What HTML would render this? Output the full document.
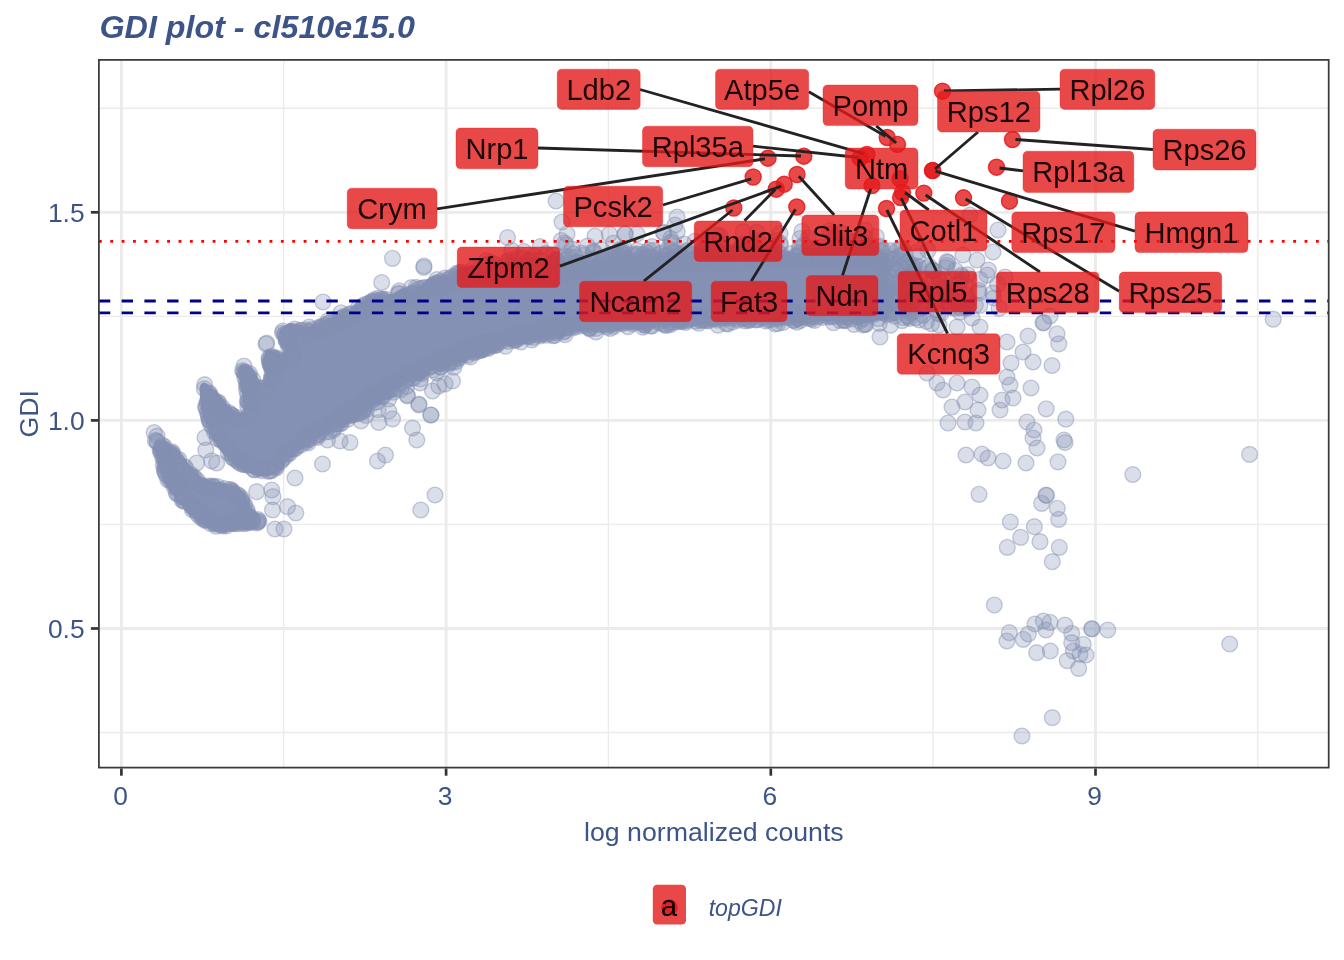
<!DOCTYPE html><html><head><meta charset="utf-8"><title>GDI plot</title><style>html,body{margin:0;padding:0;background:#fff}svg{display:block;will-change:transform}text{font-family:"Liberation Sans",sans-serif}</style></head><body>
<svg width="1344" height="960" viewBox="0 0 1344 960">
<rect width="1344" height="960" fill="#fff"/>
<g stroke="#EBEBEB" fill="none">
<g stroke-width="1.42">
<path d="M283.7 59.9V767.6"/>
<path d="M608.4 59.9V767.6"/>
<path d="M933.1 59.9V767.6"/>
<path d="M1257.8 59.9V767.6"/>
<path d="M98.9 108.3H1328.7"/>
<path d="M98.9 316.4H1328.7"/>
<path d="M98.9 524.4H1328.7"/>
<path d="M98.9 732.5H1328.7"/>
</g><g stroke-width="2.85">
<path d="M121.4 59.9V767.6"/>
<path d="M446.1 59.9V767.6"/>
<path d="M770.8 59.9V767.6"/>
<path d="M1095.5 59.9V767.6"/>
<path d="M98.9 212.3H1328.7"/>
<path d="M98.9 420.4H1328.7"/>
<path d="M98.9 628.5H1328.7"/>
</g></g>
<path d="M342.1 423.1L407.0 382.8L441.6 365.4L476.2 352.9L506.0 344.2L560.7 332.6L600.3 327.7L660.1 324.7L840.0 319.7L886.1 320.5L888.1 319.3L889.0 316.7L888.8 255.1L887.5 253.2L885.4 252.3L840.0 252.3L774.9 253.3L709.9 255.2L659.7 257.3L599.7 261.3L559.8 266.3L509.9 266.3L474.2 269.2L438.8 279.5L404.0 291.6L373.6 297.2L368.2 299.3L338.3 314.7L304.0 328.4L303.0 326.2L301.0 324.9L290.2 323.0L287.9 323.6L284.3 326.8L280.6 328.8L279.2 332.4L285.7 351.0L285.7 352.9L284.9 354.5L283.0 355.7L280.8 355.6L269.3 349.5L266.7 350.0L264.9 352.0L266.8 379.7L265.6 382.8L262.9 383.8L260.5 382.9L250.3 369.7L245.4 364.8L242.4 364.1L239.6 366.2L238.1 371.1L241.8 389.7L243.8 410.0L243.1 412.1L241.4 413.5L238.1 413.3L227.6 405.9L220.1 395.6L206.2 383.1L204.0 382.5L202.1 383.0L200.7 384.4L199.5 387.2L200.3 402.4L204.2 419.1L210.9 436.3L219.8 450.3L232.8 464.0L244.8 471.5L259.7 476.0L271.9 475.2L281.3 470.6L282.6 469.3L287.2 460.5L302.5 448.5L303.9 446.0ZM159.4 439.9L157.5 439.8L155.7 440.7L154.6 442.3L154.3 444.2L158.7 465.6L163.6 481.5L179.5 504.1L204.6 526.3L216.2 531.0L246.0 527.9L254.5 525.6L256.1 524.4L257.0 522.3L256.8 520.4L253.3 514.7L249.4 504.3L244.8 495.1L238.2 487.0L236.5 486.1L214.0 481.7L201.1 478.3L192.0 469.1L185.1 458.8L174.7 446.9Z" fill="#8491B4"/>
<g class="g" fill="#8491B4" fill-opacity=".3" stroke="#8491B4" stroke-opacity=".45" stroke-width="1.4">
<circle cx="408.2" cy="298.5" r="7.9"/><circle cx="232.5" cy="453.2" r="7.9"/><circle cx="908.0" cy="262.1" r="7.9"/><circle cx="680.1" cy="321.3" r="7.9"/><circle cx="161.8" cy="451.7" r="7.9"/><circle cx="485.4" cy="342.8" r="7.9"/><circle cx="432.5" cy="391.0" r="7.9"/><circle cx="487.2" cy="343.0" r="7.9"/><circle cx="664.0" cy="232.7" r="7.9"/><circle cx="699.1" cy="264.1" r="7.9"/><circle cx="736.3" cy="260.0" r="7.9"/><circle cx="921.3" cy="286.9" r="7.9"/><circle cx="271.6" cy="379.1" r="7.9"/><circle cx="401.0" cy="300.1" r="7.9"/><circle cx="487.2" cy="341.3" r="7.9"/><circle cx="806.3" cy="260.4" r="7.9"/><circle cx="660.0" cy="254.1" r="7.9"/><circle cx="251.1" cy="382.6" r="7.9"/><circle cx="863.5" cy="315.7" r="7.9"/><circle cx="258.1" cy="468.7" r="7.9"/><circle cx="306.1" cy="329.9" r="7.9"/><circle cx="808.5" cy="315.2" r="7.9"/><circle cx="708.1" cy="320.2" r="7.9"/><circle cx="554.1" cy="254.5" r="7.9"/><circle cx="611.8" cy="267.7" r="7.9"/><circle cx="852.8" cy="314.6" r="7.9"/><circle cx="724.4" cy="259.2" r="7.9"/><circle cx="206.3" cy="487.5" r="7.9"/><circle cx="736.1" cy="315.6" r="7.9"/><circle cx="831.2" cy="233.5" r="7.9"/><circle cx="259.0" cy="521.5" r="7.9"/><circle cx="1046.5" cy="495.5" r="7.9"/><circle cx="670.4" cy="324.6" r="7.9"/><circle cx="310.7" cy="431.9" r="7.9"/><circle cx="576.3" cy="262.2" r="7.9"/><circle cx="411.5" cy="296.5" r="7.9"/><circle cx="717.6" cy="320.1" r="7.9"/><circle cx="374.3" cy="299.5" r="7.9"/><circle cx="193.2" cy="481.3" r="7.9"/><circle cx="586.1" cy="270.8" r="7.9"/><circle cx="684.9" cy="318.1" r="7.9"/><circle cx="526.7" cy="270.1" r="7.9"/><circle cx="329.2" cy="323.0" r="7.9"/><circle cx="317.4" cy="437.4" r="7.9"/><circle cx="802.0" cy="231.4" r="7.9"/><circle cx="764.5" cy="313.9" r="7.9"/><circle cx="857.5" cy="248.3" r="7.9"/><circle cx="750.8" cy="259.8" r="7.9"/><circle cx="507.0" cy="274.1" r="7.9"/><circle cx="918.4" cy="266.7" r="7.9"/><circle cx="306.0" cy="442.0" r="7.9"/><circle cx="927.0" cy="373.0" r="7.9"/><circle cx="970.0" cy="215.0" r="7.9"/><circle cx="878.3" cy="318.6" r="7.9"/><circle cx="1007.3" cy="547.3" r="7.9"/><circle cx="504.4" cy="337.8" r="7.9"/><circle cx="899.7" cy="306.3" r="7.9"/><circle cx="455.9" cy="358.4" r="7.9"/><circle cx="497.8" cy="267.6" r="7.9"/><circle cx="493.3" cy="343.7" r="7.9"/><circle cx="322.5" cy="328.0" r="7.9"/><circle cx="958.9" cy="307.0" r="7.9"/><circle cx="1007.0" cy="641.0" r="7.9"/><circle cx="463.9" cy="279.9" r="7.9"/><circle cx="265.3" cy="388.6" r="7.9"/><circle cx="481.0" cy="274.3" r="7.9"/><circle cx="382.3" cy="303.1" r="7.9"/><circle cx="166.7" cy="468.7" r="7.9"/><circle cx="270.3" cy="362.4" r="7.9"/><circle cx="739.0" cy="251.9" r="7.9"/><circle cx="1028.3" cy="634.0" r="7.9"/><circle cx="833.5" cy="322.7" r="7.9"/><circle cx="812.2" cy="314.9" r="7.9"/><circle cx="247.8" cy="377.4" r="7.9"/><circle cx="698.1" cy="316.6" r="7.9"/><circle cx="659.5" cy="316.5" r="7.9"/><circle cx="1059.3" cy="547.3" r="7.9"/><circle cx="879.3" cy="323.3" r="7.9"/><circle cx="501.1" cy="338.0" r="7.9"/><circle cx="218.0" cy="406.9" r="7.9"/><circle cx="727.5" cy="263.3" r="7.9"/><circle cx="627.7" cy="321.8" r="7.9"/><circle cx="858.5" cy="245.0" r="7.9"/><circle cx="781.5" cy="257.9" r="7.9"/><circle cx="965.0" cy="422.0" r="7.9"/><circle cx="578.3" cy="269.7" r="7.9"/><circle cx="191.7" cy="504.3" r="7.9"/><circle cx="288.0" cy="453.4" r="7.9"/><circle cx="166.4" cy="475.0" r="7.9"/><circle cx="745.8" cy="317.8" r="7.9"/><circle cx="589.9" cy="271.0" r="7.9"/><circle cx="715.1" cy="253.3" r="7.9"/><circle cx="619.2" cy="251.4" r="7.9"/><circle cx="841.0" cy="252.4" r="7.9"/><circle cx="164.4" cy="456.8" r="7.9"/><circle cx="909.6" cy="308.2" r="7.9"/><circle cx="853.9" cy="252.5" r="7.9"/><circle cx="325.4" cy="432.0" r="7.9"/><circle cx="552.3" cy="271.7" r="7.9"/><circle cx="861.8" cy="255.4" r="7.9"/><circle cx="183.9" cy="470.6" r="7.9"/><circle cx="223.9" cy="412.7" r="7.9"/><circle cx="193.0" cy="480.5" r="7.9"/><circle cx="681.3" cy="263.1" r="7.9"/><circle cx="209.4" cy="420.1" r="7.9"/><circle cx="421.7" cy="368.7" r="7.9"/><circle cx="386.2" cy="299.4" r="7.9"/><circle cx="526.5" cy="271.2" r="7.9"/><circle cx="442.3" cy="359.5" r="7.9"/><circle cx="563.7" cy="324.7" r="7.9"/><circle cx="286.1" cy="340.9" r="7.9"/><circle cx="887.0" cy="262.9" r="7.9"/><circle cx="311.0" cy="433.9" r="7.9"/><circle cx="1083.3" cy="644.3" r="7.9"/><circle cx="842.1" cy="316.9" r="7.9"/><circle cx="257.7" cy="521.2" r="7.9"/><circle cx="171.1" cy="477.7" r="7.9"/><circle cx="623.2" cy="252.7" r="7.9"/><circle cx="297.3" cy="445.7" r="7.9"/><circle cx="382.8" cy="299.2" r="7.9"/><circle cx="461.2" cy="278.2" r="7.9"/><circle cx="780.1" cy="245.1" r="7.9"/><circle cx="859.8" cy="315.2" r="7.9"/><circle cx="440.7" cy="287.8" r="7.9"/><circle cx="514.2" cy="339.9" r="7.9"/><circle cx="884.8" cy="264.9" r="7.9"/><circle cx="684.0" cy="253.8" r="7.9"/><circle cx="902.7" cy="281.2" r="7.9"/><circle cx="528.2" cy="265.3" r="7.9"/><circle cx="746.4" cy="259.2" r="7.9"/><circle cx="382.2" cy="391.9" r="7.9"/><circle cx="823.6" cy="311.6" r="7.9"/><circle cx="1050.3" cy="651.0" r="7.9"/><circle cx="260.5" cy="388.6" r="7.9"/><circle cx="740.2" cy="247.8" r="7.9"/><circle cx="823.3" cy="253.1" r="7.9"/><circle cx="633.5" cy="321.2" r="7.9"/><circle cx="518.1" cy="332.8" r="7.9"/><circle cx="292.4" cy="358.1" r="7.9"/><circle cx="775.5" cy="259.8" r="7.9"/><circle cx="284.7" cy="334.0" r="7.9"/><circle cx="464.4" cy="279.8" r="7.9"/><circle cx="437.7" cy="285.6" r="7.9"/><circle cx="437.7" cy="283.1" r="7.9"/><circle cx="575.3" cy="324.7" r="7.9"/><circle cx="489.3" cy="270.6" r="7.9"/><circle cx="619.7" cy="321.7" r="7.9"/><circle cx="249.6" cy="517.0" r="7.9"/><circle cx="509.3" cy="263.0" r="7.9"/><circle cx="467.5" cy="350.8" r="7.9"/><circle cx="624.0" cy="255.1" r="7.9"/><circle cx="517.4" cy="336.2" r="7.9"/><circle cx="223.7" cy="524.0" r="7.9"/><circle cx="892.2" cy="312.4" r="7.9"/><circle cx="537.3" cy="273.0" r="7.9"/><circle cx="164.1" cy="446.3" r="7.9"/><circle cx="481.2" cy="342.9" r="7.9"/><circle cx="730.5" cy="259.3" r="7.9"/><circle cx="833.7" cy="238.5" r="7.9"/><circle cx="516.1" cy="339.8" r="7.9"/><circle cx="276.1" cy="359.5" r="7.9"/><circle cx="524.5" cy="270.8" r="7.9"/><circle cx="509.3" cy="259.9" r="7.9"/><circle cx="658.5" cy="322.7" r="7.9"/><circle cx="712.6" cy="318.6" r="7.9"/><circle cx="365.8" cy="415.5" r="7.9"/><circle cx="850.4" cy="259.0" r="7.9"/><circle cx="923.1" cy="306.1" r="7.9"/><circle cx="640.8" cy="322.4" r="7.9"/><circle cx="543.9" cy="268.7" r="7.9"/><circle cx="491.7" cy="272.6" r="7.9"/><circle cx="173.2" cy="455.2" r="7.9"/><circle cx="615.2" cy="322.6" r="7.9"/><circle cx="468.3" cy="355.1" r="7.9"/><circle cx="738.5" cy="320.2" r="7.9"/><circle cx="359.5" cy="413.1" r="7.9"/><circle cx="197.5" cy="514.2" r="7.9"/><circle cx="459.7" cy="352.1" r="7.9"/><circle cx="582.9" cy="268.3" r="7.9"/><circle cx="256.7" cy="523.0" r="7.9"/><circle cx="575.6" cy="257.1" r="7.9"/><circle cx="418.9" cy="370.6" r="7.9"/><circle cx="1043.0" cy="323.0" r="7.9"/><circle cx="482.3" cy="349.8" r="7.9"/><circle cx="769.2" cy="253.0" r="7.9"/><circle cx="740.7" cy="254.4" r="7.9"/><circle cx="681.8" cy="321.3" r="7.9"/><circle cx="1007.0" cy="377.0" r="7.9"/><circle cx="766.7" cy="252.7" r="7.9"/><circle cx="209.1" cy="419.4" r="7.9"/><circle cx="517.4" cy="270.1" r="7.9"/><circle cx="512.7" cy="335.8" r="7.9"/><circle cx="851.4" cy="318.9" r="7.9"/><circle cx="808.0" cy="248.9" r="7.9"/><circle cx="244.7" cy="523.6" r="7.9"/><circle cx="541.6" cy="274.6" r="7.9"/><circle cx="242.6" cy="370.5" r="7.9"/><circle cx="174.1" cy="486.8" r="7.9"/><circle cx="546.0" cy="253.4" r="7.9"/><circle cx="323.0" cy="302.0" r="7.9"/><circle cx="776.6" cy="240.8" r="7.9"/><circle cx="462.7" cy="352.3" r="7.9"/><circle cx="726.2" cy="323.6" r="7.9"/><circle cx="282.5" cy="333.0" r="7.9"/><circle cx="295.0" cy="478.0" r="7.9"/><circle cx="750.2" cy="315.6" r="7.9"/><circle cx="851.6" cy="254.4" r="7.9"/><circle cx="524.3" cy="331.8" r="7.9"/><circle cx="508.2" cy="341.3" r="7.9"/><circle cx="820.9" cy="255.2" r="7.9"/><circle cx="727.8" cy="258.6" r="7.9"/><circle cx="875.9" cy="257.3" r="7.9"/><circle cx="291.1" cy="356.3" r="7.9"/><circle cx="748.7" cy="260.0" r="7.9"/><circle cx="814.8" cy="255.8" r="7.9"/><circle cx="414.8" cy="370.6" r="7.9"/><circle cx="671.3" cy="322.3" r="7.9"/><circle cx="192.9" cy="476.5" r="7.9"/><circle cx="287.0" cy="341.1" r="7.9"/><circle cx="245.3" cy="521.1" r="7.9"/><circle cx="561.9" cy="271.5" r="7.9"/><circle cx="287.7" cy="341.9" r="7.9"/><circle cx="269.6" cy="386.2" r="7.9"/><circle cx="798.1" cy="318.5" r="7.9"/><circle cx="684.0" cy="261.3" r="7.9"/><circle cx="560.1" cy="329.2" r="7.9"/><circle cx="365.5" cy="308.6" r="7.9"/><circle cx="208.5" cy="416.0" r="7.9"/><circle cx="939.0" cy="279.9" r="7.9"/><circle cx="579.4" cy="269.3" r="7.9"/><circle cx="185.6" cy="467.8" r="7.9"/><circle cx="779.2" cy="317.4" r="7.9"/><circle cx="589.5" cy="327.8" r="7.9"/><circle cx="702.6" cy="263.6" r="7.9"/><circle cx="398.6" cy="383.8" r="7.9"/><circle cx="681.7" cy="319.7" r="7.9"/><circle cx="601.7" cy="324.8" r="7.9"/><circle cx="892.5" cy="268.3" r="7.9"/><circle cx="432.2" cy="365.8" r="7.9"/><circle cx="271.8" cy="375.7" r="7.9"/><circle cx="980.0" cy="279.4" r="7.9"/><circle cx="198.7" cy="510.7" r="7.9"/><circle cx="641.2" cy="263.5" r="7.9"/><circle cx="1080.0" cy="654.3" r="7.9"/><circle cx="583.3" cy="269.4" r="7.9"/><circle cx="407.5" cy="396.0" r="7.9"/><circle cx="417.9" cy="369.0" r="7.9"/><circle cx="835.1" cy="259.7" r="7.9"/><circle cx="197.1" cy="510.5" r="7.9"/><circle cx="228.6" cy="412.5" r="7.9"/><circle cx="552.2" cy="273.9" r="7.9"/><circle cx="696.2" cy="258.7" r="7.9"/><circle cx="748.7" cy="262.2" r="7.9"/><circle cx="424.0" cy="266.0" r="7.9"/><circle cx="444.9" cy="278.0" r="7.9"/><circle cx="433.4" cy="285.7" r="7.9"/><circle cx="710.8" cy="257.5" r="7.9"/><circle cx="555.2" cy="259.5" r="7.9"/><circle cx="838.8" cy="315.1" r="7.9"/><circle cx="548.2" cy="272.4" r="7.9"/><circle cx="354.9" cy="414.2" r="7.9"/><circle cx="234.4" cy="521.1" r="7.9"/><circle cx="495.5" cy="345.4" r="7.9"/><circle cx="909.7" cy="318.5" r="7.9"/><circle cx="461.9" cy="353.9" r="7.9"/><circle cx="671.1" cy="249.7" r="7.9"/><circle cx="721.3" cy="251.7" r="7.9"/><circle cx="757.7" cy="241.2" r="7.9"/><circle cx="593.1" cy="251.2" r="7.9"/><circle cx="1037.0" cy="448.0" r="7.9"/><circle cx="399.6" cy="300.0" r="7.9"/><circle cx="721.7" cy="315.6" r="7.9"/><circle cx="467.1" cy="279.7" r="7.9"/><circle cx="720.8" cy="260.2" r="7.9"/><circle cx="704.0" cy="261.8" r="7.9"/><circle cx="940.1" cy="282.4" r="7.9"/><circle cx="284.6" cy="457.4" r="7.9"/><circle cx="857.1" cy="257.4" r="7.9"/><circle cx="968.9" cy="300.1" r="7.9"/><circle cx="802.7" cy="317.3" r="7.9"/><circle cx="247.8" cy="400.9" r="7.9"/><circle cx="246.9" cy="518.7" r="7.9"/><circle cx="551.3" cy="328.5" r="7.9"/><circle cx="907.6" cy="289.8" r="7.9"/><circle cx="546.7" cy="327.1" r="7.9"/><circle cx="440.7" cy="363.6" r="7.9"/><circle cx="685.6" cy="316.9" r="7.9"/><circle cx="839.4" cy="260.8" r="7.9"/><circle cx="399.3" cy="293.4" r="7.9"/><circle cx="374.7" cy="305.2" r="7.9"/><circle cx="689.7" cy="262.9" r="7.9"/><circle cx="714.1" cy="262.2" r="7.9"/><circle cx="957.4" cy="301.2" r="7.9"/><circle cx="270.5" cy="360.7" r="7.9"/><circle cx="872.1" cy="249.9" r="7.9"/><circle cx="702.0" cy="257.8" r="7.9"/><circle cx="567.5" cy="327.8" r="7.9"/><circle cx="242.8" cy="520.8" r="7.9"/><circle cx="882.0" cy="305.1" r="7.9"/><circle cx="165.3" cy="473.1" r="7.9"/><circle cx="650.9" cy="326.0" r="7.9"/><circle cx="344.0" cy="316.3" r="7.9"/><circle cx="793.2" cy="261.5" r="7.9"/><circle cx="193.6" cy="507.4" r="7.9"/><circle cx="644.0" cy="324.8" r="7.9"/><circle cx="952.0" cy="407.0" r="7.9"/><circle cx="387.6" cy="386.4" r="7.9"/><circle cx="1005.0" cy="277.0" r="7.9"/><circle cx="426.5" cy="287.6" r="7.9"/><circle cx="1064.0" cy="440.0" r="7.9"/><circle cx="355.4" cy="407.5" r="7.9"/><circle cx="333.5" cy="430.0" r="7.9"/><circle cx="164.9" cy="462.4" r="7.9"/><circle cx="584.5" cy="322.8" r="7.9"/><circle cx="948.2" cy="300.8" r="7.9"/><circle cx="291.9" cy="449.1" r="7.9"/><circle cx="384.0" cy="300.8" r="7.9"/><circle cx="406.6" cy="373.6" r="7.9"/><circle cx="870.3" cy="257.2" r="7.9"/><circle cx="184.3" cy="466.5" r="7.9"/><circle cx="170.5" cy="479.5" r="7.9"/><circle cx="967.7" cy="274.7" r="7.9"/><circle cx="169.9" cy="480.0" r="7.9"/><circle cx="538.1" cy="274.4" r="7.9"/><circle cx="557.2" cy="329.6" r="7.9"/><circle cx="666.7" cy="256.4" r="7.9"/><circle cx="584.3" cy="324.3" r="7.9"/><circle cx="224.1" cy="411.4" r="7.9"/><circle cx="321.2" cy="327.5" r="7.9"/><circle cx="637.1" cy="259.5" r="7.9"/><circle cx="231.4" cy="491.4" r="7.9"/><circle cx="737.6" cy="314.4" r="7.9"/><circle cx="218.4" cy="406.5" r="7.9"/><circle cx="431.2" cy="289.2" r="7.9"/><circle cx="341.5" cy="417.8" r="7.9"/><circle cx="885.1" cy="312.9" r="7.9"/><circle cx="752.5" cy="243.1" r="7.9"/><circle cx="717.7" cy="315.7" r="7.9"/><circle cx="972.0" cy="318.0" r="7.9"/><circle cx="564.0" cy="265.3" r="7.9"/><circle cx="268.5" cy="471.3" r="7.9"/><circle cx="371.2" cy="305.2" r="7.9"/><circle cx="439.9" cy="362.5" r="7.9"/><circle cx="777.4" cy="258.1" r="7.9"/><circle cx="681.6" cy="260.7" r="7.9"/><circle cx="818.6" cy="260.5" r="7.9"/><circle cx="549.9" cy="268.3" r="7.9"/><circle cx="664.6" cy="256.1" r="7.9"/><circle cx="539.9" cy="335.8" r="7.9"/><circle cx="943.0" cy="390.0" r="7.9"/><circle cx="342.6" cy="416.8" r="7.9"/><circle cx="756.6" cy="248.7" r="7.9"/><circle cx="889.4" cy="259.1" r="7.9"/><circle cx="288.1" cy="359.2" r="7.9"/><circle cx="447.2" cy="359.0" r="7.9"/><circle cx="581.0" cy="321.7" r="7.9"/><circle cx="529.1" cy="333.6" r="7.9"/><circle cx="609.4" cy="234.2" r="7.9"/><circle cx="360.3" cy="408.8" r="7.9"/><circle cx="552.6" cy="333.1" r="7.9"/><circle cx="564.8" cy="269.6" r="7.9"/><circle cx="988.0" cy="458.0" r="7.9"/><circle cx="568.1" cy="259.7" r="7.9"/><circle cx="722.5" cy="253.9" r="7.9"/><circle cx="843.7" cy="258.1" r="7.9"/><circle cx="1009.3" cy="632.7" r="7.9"/><circle cx="177.6" cy="488.2" r="7.9"/><circle cx="639.2" cy="320.4" r="7.9"/><circle cx="387.1" cy="387.8" r="7.9"/><circle cx="679.1" cy="254.4" r="7.9"/><circle cx="881.6" cy="277.4" r="7.9"/><circle cx="489.8" cy="343.3" r="7.9"/><circle cx="812.1" cy="317.4" r="7.9"/><circle cx="951.5" cy="297.0" r="7.9"/><circle cx="623.1" cy="261.3" r="7.9"/><circle cx="230.5" cy="489.8" r="7.9"/><circle cx="1065.0" cy="625.0" r="7.9"/><circle cx="535.4" cy="331.6" r="7.9"/><circle cx="484.8" cy="274.0" r="7.9"/><circle cx="246.5" cy="385.9" r="7.9"/><circle cx="190.6" cy="474.1" r="7.9"/><circle cx="833.7" cy="257.8" r="7.9"/><circle cx="350.4" cy="413.1" r="7.9"/><circle cx="632.8" cy="322.1" r="7.9"/><circle cx="218.6" cy="490.2" r="7.9"/><circle cx="584.6" cy="263.5" r="7.9"/><circle cx="235.8" cy="523.7" r="7.9"/><circle cx="366.5" cy="409.8" r="7.9"/><circle cx="565.0" cy="273.4" r="7.9"/><circle cx="859.8" cy="253.7" r="7.9"/><circle cx="692.5" cy="259.7" r="7.9"/><circle cx="294.3" cy="448.6" r="7.9"/><circle cx="1057.0" cy="333.8" r="7.9"/><circle cx="1132.8" cy="474.5" r="7.9"/><circle cx="373.7" cy="393.6" r="7.9"/><circle cx="416.2" cy="287.4" r="7.9"/><circle cx="729.6" cy="263.0" r="7.9"/><circle cx="301.3" cy="330.1" r="7.9"/><circle cx="176.6" cy="459.3" r="7.9"/><circle cx="244.0" cy="464.3" r="7.9"/><circle cx="585.7" cy="268.9" r="7.9"/><circle cx="741.8" cy="246.7" r="7.9"/><circle cx="557.5" cy="328.1" r="7.9"/><circle cx="1033.0" cy="438.0" r="7.9"/><circle cx="346.1" cy="318.3" r="7.9"/><circle cx="796.9" cy="318.7" r="7.9"/><circle cx="751.1" cy="248.6" r="7.9"/><circle cx="790.6" cy="313.9" r="7.9"/><circle cx="190.9" cy="477.7" r="7.9"/><circle cx="400.5" cy="299.3" r="7.9"/><circle cx="445.3" cy="285.1" r="7.9"/><circle cx="421.7" cy="373.7" r="7.9"/><circle cx="737.7" cy="259.5" r="7.9"/><circle cx="362.2" cy="410.8" r="7.9"/><circle cx="813.9" cy="258.4" r="7.9"/><circle cx="240.5" cy="459.6" r="7.9"/><circle cx="685.6" cy="322.4" r="7.9"/><circle cx="540.8" cy="333.7" r="7.9"/><circle cx="1052.0" cy="365.5" r="7.9"/><circle cx="588.6" cy="322.6" r="7.9"/><circle cx="222.5" cy="411.9" r="7.9"/><circle cx="432.8" cy="286.1" r="7.9"/><circle cx="238.9" cy="462.5" r="7.9"/><circle cx="771.3" cy="252.6" r="7.9"/><circle cx="712.8" cy="249.5" r="7.9"/><circle cx="651.7" cy="319.3" r="7.9"/><circle cx="812.0" cy="256.2" r="7.9"/><circle cx="232.2" cy="415.4" r="7.9"/><circle cx="517.9" cy="258.1" r="7.9"/><circle cx="445.0" cy="361.7" r="7.9"/><circle cx="957.0" cy="327.0" r="7.9"/><circle cx="688.5" cy="261.8" r="7.9"/><circle cx="662.6" cy="260.5" r="7.9"/><circle cx="594.3" cy="252.1" r="7.9"/><circle cx="364.0" cy="408.8" r="7.9"/><circle cx="975.3" cy="305.1" r="7.9"/><circle cx="210.9" cy="520.9" r="7.9"/><circle cx="978.9" cy="292.8" r="7.9"/><circle cx="371.2" cy="397.1" r="7.9"/><circle cx="859.6" cy="321.2" r="7.9"/><circle cx="473.9" cy="350.1" r="7.9"/><circle cx="887.0" cy="293.0" r="7.9"/><circle cx="890.9" cy="259.6" r="7.9"/><circle cx="702.2" cy="260.5" r="7.9"/><circle cx="244.3" cy="464.3" r="7.9"/><circle cx="639.9" cy="319.2" r="7.9"/><circle cx="363.6" cy="306.1" r="7.9"/><circle cx="899.3" cy="283.1" r="7.9"/><circle cx="629.3" cy="320.5" r="7.9"/><circle cx="217.2" cy="438.5" r="7.9"/><circle cx="378.8" cy="422.5" r="7.9"/><circle cx="870.6" cy="260.6" r="7.9"/><circle cx="266.0" cy="344.0" r="7.9"/><circle cx="637.2" cy="320.6" r="7.9"/><circle cx="502.7" cy="271.3" r="7.9"/><circle cx="796.3" cy="255.7" r="7.9"/><circle cx="551.5" cy="268.6" r="7.9"/><circle cx="452.3" cy="276.7" r="7.9"/><circle cx="531.6" cy="274.4" r="7.9"/><circle cx="1046.2" cy="408.8" r="7.9"/><circle cx="330.3" cy="425.2" r="7.9"/><circle cx="639.0" cy="318.1" r="7.9"/><circle cx="252.3" cy="519.3" r="7.9"/><circle cx="977.0" cy="260.0" r="7.9"/><circle cx="716.8" cy="251.6" r="7.9"/><circle cx="612.0" cy="259.1" r="7.9"/><circle cx="767.1" cy="318.7" r="7.9"/><circle cx="810.7" cy="316.3" r="7.9"/><circle cx="358.9" cy="312.8" r="7.9"/><circle cx="624.5" cy="248.5" r="7.9"/><circle cx="237.9" cy="420.1" r="7.9"/><circle cx="795.3" cy="260.6" r="7.9"/><circle cx="1058.7" cy="519.3" r="7.9"/><circle cx="482.6" cy="347.4" r="7.9"/><circle cx="676.3" cy="263.1" r="7.9"/><circle cx="333.7" cy="420.4" r="7.9"/><circle cx="891.3" cy="288.3" r="7.9"/><circle cx="653.4" cy="250.7" r="7.9"/><circle cx="630.2" cy="319.7" r="7.9"/><circle cx="548.2" cy="272.6" r="7.9"/><circle cx="479.9" cy="272.3" r="7.9"/><circle cx="247.5" cy="376.3" r="7.9"/><circle cx="369.4" cy="307.0" r="7.9"/><circle cx="1022.0" cy="736.0" r="7.9"/><circle cx="241.3" cy="500.8" r="7.9"/><circle cx="340.0" cy="441.0" r="7.9"/><circle cx="605.2" cy="324.7" r="7.9"/><circle cx="474.2" cy="274.6" r="7.9"/><circle cx="737.9" cy="257.2" r="7.9"/><circle cx="603.7" cy="264.9" r="7.9"/><circle cx="957.0" cy="383.0" r="7.9"/><circle cx="546.6" cy="331.6" r="7.9"/><circle cx="664.8" cy="316.1" r="7.9"/><circle cx="792.2" cy="260.1" r="7.9"/><circle cx="741.5" cy="260.4" r="7.9"/><circle cx="520.3" cy="337.4" r="7.9"/><circle cx="907.5" cy="262.2" r="7.9"/><circle cx="716.4" cy="262.7" r="7.9"/><circle cx="857.2" cy="257.8" r="7.9"/><circle cx="244.8" cy="504.7" r="7.9"/><circle cx="575.4" cy="322.2" r="7.9"/><circle cx="966.0" cy="455.0" r="7.9"/><circle cx="887.6" cy="286.3" r="7.9"/><circle cx="642.1" cy="259.4" r="7.9"/><circle cx="820.7" cy="257.9" r="7.9"/><circle cx="666.2" cy="325.3" r="7.9"/><circle cx="341.4" cy="318.0" r="7.9"/><circle cx="863.6" cy="313.4" r="7.9"/><circle cx="476.0" cy="352.0" r="7.9"/><circle cx="730.0" cy="262.1" r="7.9"/><circle cx="758.9" cy="316.5" r="7.9"/><circle cx="346.6" cy="412.1" r="7.9"/><circle cx="229.0" cy="416.5" r="7.9"/><circle cx="677.5" cy="318.9" r="7.9"/><circle cx="707.0" cy="241.4" r="7.9"/><circle cx="850.2" cy="255.2" r="7.9"/><circle cx="420.0" cy="382.8" r="7.9"/><circle cx="350.0" cy="442.5" r="7.9"/><circle cx="489.3" cy="347.2" r="7.9"/><circle cx="168.7" cy="469.1" r="7.9"/><circle cx="719.9" cy="235.6" r="7.9"/><circle cx="485.3" cy="264.6" r="7.9"/><circle cx="525.3" cy="270.2" r="7.9"/><circle cx="234.0" cy="521.7" r="7.9"/><circle cx="608.6" cy="263.3" r="7.9"/><circle cx="406.5" cy="386.3" r="7.9"/><circle cx="203.9" cy="516.3" r="7.9"/><circle cx="252.3" cy="384.6" r="7.9"/><circle cx="192.3" cy="509.6" r="7.9"/><circle cx="317.7" cy="434.2" r="7.9"/><circle cx="765.7" cy="317.0" r="7.9"/><circle cx="619.8" cy="249.7" r="7.9"/><circle cx="762.4" cy="317.4" r="7.9"/><circle cx="916.5" cy="281.6" r="7.9"/><circle cx="492.4" cy="267.6" r="7.9"/><circle cx="765.9" cy="261.8" r="7.9"/><circle cx="676.7" cy="320.1" r="7.9"/><circle cx="157.0" cy="440.9" r="7.9"/><circle cx="394.9" cy="381.4" r="7.9"/><circle cx="522.9" cy="258.3" r="7.9"/><circle cx="416.8" cy="440.0" r="7.9"/><circle cx="520.9" cy="335.4" r="7.9"/><circle cx="594.9" cy="269.5" r="7.9"/><circle cx="275.0" cy="529.0" r="7.9"/><circle cx="818.5" cy="314.8" r="7.9"/><circle cx="274.8" cy="373.5" r="7.9"/><circle cx="854.2" cy="241.9" r="7.9"/><circle cx="222.4" cy="523.7" r="7.9"/><circle cx="286.2" cy="337.8" r="7.9"/><circle cx="907.1" cy="315.8" r="7.9"/><circle cx="818.6" cy="259.2" r="7.9"/><circle cx="495.1" cy="264.3" r="7.9"/><circle cx="271.5" cy="363.9" r="7.9"/><circle cx="208.0" cy="414.2" r="7.9"/><circle cx="912.7" cy="272.7" r="7.9"/><circle cx="468.3" cy="347.9" r="7.9"/><circle cx="176.3" cy="492.8" r="7.9"/><circle cx="378.1" cy="409.7" r="7.9"/><circle cx="283.2" cy="362.3" r="7.9"/><circle cx="871.7" cy="251.0" r="7.9"/><circle cx="690.6" cy="318.3" r="7.9"/><circle cx="272.4" cy="465.6" r="7.9"/><circle cx="677.9" cy="257.3" r="7.9"/><circle cx="208.6" cy="394.9" r="7.9"/><circle cx="636.3" cy="262.1" r="7.9"/><circle cx="665.7" cy="324.8" r="7.9"/><circle cx="875.1" cy="313.9" r="7.9"/><circle cx="547.8" cy="331.1" r="7.9"/><circle cx="212.0" cy="415.6" r="7.9"/><circle cx="897.3" cy="250.5" r="7.9"/><circle cx="900.1" cy="281.6" r="7.9"/><circle cx="271.9" cy="370.0" r="7.9"/><circle cx="213.7" cy="486.9" r="7.9"/><circle cx="520.9" cy="342.0" r="7.9"/><circle cx="560.9" cy="329.9" r="7.9"/><circle cx="416.3" cy="295.2" r="7.9"/><circle cx="384.8" cy="389.1" r="7.9"/><circle cx="580.3" cy="267.0" r="7.9"/><circle cx="164.5" cy="451.7" r="7.9"/><circle cx="549.9" cy="266.2" r="7.9"/><circle cx="373.9" cy="394.0" r="7.9"/><circle cx="207.0" cy="403.9" r="7.9"/><circle cx="588.5" cy="270.3" r="7.9"/><circle cx="638.3" cy="261.9" r="7.9"/><circle cx="910.1" cy="312.9" r="7.9"/><circle cx="1052.3" cy="717.7" r="7.9"/><circle cx="831.3" cy="312.5" r="7.9"/><circle cx="536.6" cy="332.4" r="7.9"/><circle cx="390.7" cy="390.2" r="7.9"/><circle cx="810.4" cy="247.8" r="7.9"/><circle cx="208.4" cy="393.0" r="7.9"/><circle cx="622.3" cy="249.6" r="7.9"/><circle cx="572.8" cy="325.8" r="7.9"/><circle cx="285.6" cy="454.5" r="7.9"/><circle cx="360.1" cy="406.1" r="7.9"/><circle cx="800.6" cy="320.5" r="7.9"/><circle cx="437.1" cy="359.9" r="7.9"/><circle cx="609.5" cy="325.1" r="7.9"/><circle cx="603.9" cy="267.1" r="7.9"/><circle cx="312.3" cy="329.4" r="7.9"/><circle cx="891.5" cy="282.1" r="7.9"/><circle cx="893.2" cy="295.9" r="7.9"/><circle cx="609.6" cy="254.5" r="7.9"/><circle cx="884.8" cy="290.1" r="7.9"/><circle cx="392.5" cy="418.8" r="7.9"/><circle cx="801.4" cy="314.1" r="7.9"/><circle cx="192.1" cy="506.4" r="7.9"/><circle cx="363.0" cy="402.6" r="7.9"/><circle cx="373.3" cy="402.9" r="7.9"/><circle cx="507.0" cy="270.6" r="7.9"/><circle cx="886.0" cy="301.7" r="7.9"/><circle cx="445.0" cy="383.8" r="7.9"/><circle cx="248.6" cy="465.0" r="7.9"/><circle cx="218.3" cy="402.0" r="7.9"/><circle cx="222.4" cy="526.0" r="7.9"/><circle cx="329.5" cy="327.3" r="7.9"/><circle cx="308.2" cy="331.4" r="7.9"/><circle cx="562.0" cy="222.0" r="7.9"/><circle cx="573.1" cy="253.7" r="7.9"/><circle cx="205.3" cy="487.6" r="7.9"/><circle cx="1031.0" cy="388.0" r="7.9"/><circle cx="827.2" cy="253.8" r="7.9"/><circle cx="672.3" cy="242.0" r="7.9"/><circle cx="899.9" cy="256.3" r="7.9"/><circle cx="329.5" cy="431.7" r="7.9"/><circle cx="422.3" cy="369.7" r="7.9"/><circle cx="967.9" cy="307.8" r="7.9"/><circle cx="511.8" cy="250.7" r="7.9"/><circle cx="868.2" cy="314.9" r="7.9"/><circle cx="845.5" cy="320.6" r="7.9"/><circle cx="905.3" cy="296.6" r="7.9"/><circle cx="718.0" cy="263.0" r="7.9"/><circle cx="490.7" cy="262.4" r="7.9"/><circle cx="166.0" cy="465.8" r="7.9"/><circle cx="459.0" cy="357.2" r="7.9"/><circle cx="911.4" cy="305.8" r="7.9"/><circle cx="891.6" cy="268.7" r="7.9"/><circle cx="948.0" cy="423.0" r="7.9"/><circle cx="748.5" cy="259.0" r="7.9"/><circle cx="644.6" cy="324.9" r="7.9"/><circle cx="430.8" cy="415.0" r="7.9"/><circle cx="689.1" cy="315.8" r="7.9"/><circle cx="531.9" cy="339.9" r="7.9"/><circle cx="707.9" cy="258.0" r="7.9"/><circle cx="406.8" cy="296.8" r="7.9"/><circle cx="257.1" cy="467.7" r="7.9"/><circle cx="360.7" cy="310.4" r="7.9"/><circle cx="651.8" cy="262.2" r="7.9"/><circle cx="757.5" cy="250.2" r="7.9"/><circle cx="323.4" cy="425.9" r="7.9"/><circle cx="375.9" cy="396.7" r="7.9"/><circle cx="677.4" cy="264.1" r="7.9"/><circle cx="241.6" cy="498.4" r="7.9"/><circle cx="372.3" cy="301.4" r="7.9"/><circle cx="168.7" cy="470.9" r="7.9"/><circle cx="645.1" cy="266.1" r="7.9"/><circle cx="804.1" cy="316.7" r="7.9"/><circle cx="326.8" cy="327.8" r="7.9"/><circle cx="836.3" cy="258.7" r="7.9"/><circle cx="266.7" cy="343.2" r="7.9"/><circle cx="545.8" cy="329.8" r="7.9"/><circle cx="182.7" cy="496.7" r="7.9"/><circle cx="717.9" cy="263.1" r="7.9"/><circle cx="495.6" cy="274.6" r="7.9"/><circle cx="407.0" cy="395.0" r="7.9"/><circle cx="564.5" cy="331.2" r="7.9"/><circle cx="684.1" cy="244.0" r="7.9"/><circle cx="519.0" cy="266.5" r="7.9"/><circle cx="507.9" cy="335.7" r="7.9"/><circle cx="561.2" cy="270.0" r="7.9"/><circle cx="880.0" cy="337.0" r="7.9"/><circle cx="250.3" cy="380.7" r="7.9"/><circle cx="697.8" cy="262.2" r="7.9"/><circle cx="448.6" cy="362.6" r="7.9"/><circle cx="338.1" cy="416.8" r="7.9"/><circle cx="249.5" cy="373.6" r="7.9"/><circle cx="587.5" cy="246.2" r="7.9"/><circle cx="824.2" cy="312.2" r="7.9"/><circle cx="955.8" cy="290.8" r="7.9"/><circle cx="544.3" cy="327.9" r="7.9"/><circle cx="708.4" cy="256.2" r="7.9"/><circle cx="248.0" cy="380.6" r="7.9"/><circle cx="415.4" cy="295.7" r="7.9"/><circle cx="262.3" cy="468.7" r="7.9"/><circle cx="231.8" cy="523.5" r="7.9"/><circle cx="747.9" cy="259.1" r="7.9"/><circle cx="904.5" cy="299.6" r="7.9"/><circle cx="881.7" cy="252.0" r="7.9"/><circle cx="779.8" cy="317.1" r="7.9"/><circle cx="801.0" cy="312.4" r="7.9"/><circle cx="1050.0" cy="622.3" r="7.9"/><circle cx="285.9" cy="335.4" r="7.9"/><circle cx="319.4" cy="327.1" r="7.9"/><circle cx="754.7" cy="254.8" r="7.9"/><circle cx="702.0" cy="317.3" r="7.9"/><circle cx="245.3" cy="374.0" r="7.9"/><circle cx="358.3" cy="312.3" r="7.9"/><circle cx="247.7" cy="386.5" r="7.9"/><circle cx="1027.0" cy="422.0" r="7.9"/><circle cx="221.5" cy="439.8" r="7.9"/><circle cx="414.0" cy="293.3" r="7.9"/><circle cx="643.2" cy="320.2" r="7.9"/><circle cx="665.2" cy="316.3" r="7.9"/><circle cx="524.2" cy="264.6" r="7.9"/><circle cx="244.2" cy="512.2" r="7.9"/><circle cx="614.3" cy="318.7" r="7.9"/><circle cx="461.6" cy="272.2" r="7.9"/><circle cx="536.0" cy="268.1" r="7.9"/><circle cx="1058.0" cy="461.8" r="7.9"/><circle cx="997.6" cy="284.4" r="7.9"/><circle cx="304.8" cy="437.6" r="7.9"/><circle cx="467.8" cy="347.6" r="7.9"/><circle cx="523.2" cy="336.0" r="7.9"/><circle cx="571.4" cy="271.9" r="7.9"/><circle cx="940.7" cy="313.8" r="7.9"/><circle cx="722.8" cy="261.1" r="7.9"/><circle cx="683.7" cy="257.9" r="7.9"/><circle cx="950.3" cy="296.7" r="7.9"/><circle cx="337.4" cy="424.2" r="7.9"/><circle cx="230.6" cy="521.7" r="7.9"/><circle cx="735.9" cy="318.5" r="7.9"/><circle cx="318.1" cy="434.9" r="7.9"/><circle cx="258.3" cy="519.6" r="7.9"/><circle cx="777.9" cy="314.4" r="7.9"/><circle cx="637.5" cy="264.0" r="7.9"/><circle cx="218.3" cy="407.2" r="7.9"/><circle cx="895.1" cy="295.1" r="7.9"/><circle cx="711.6" cy="240.6" r="7.9"/><circle cx="610.2" cy="328.3" r="7.9"/><circle cx="227.3" cy="445.9" r="7.9"/><circle cx="257.5" cy="522.0" r="7.9"/><circle cx="306.6" cy="438.0" r="7.9"/><circle cx="621.8" cy="263.4" r="7.9"/><circle cx="908.7" cy="305.1" r="7.9"/><circle cx="1071.7" cy="633.3" r="7.9"/><circle cx="919.3" cy="319.9" r="7.9"/><circle cx="207.3" cy="411.8" r="7.9"/><circle cx="537.4" cy="271.6" r="7.9"/><circle cx="874.6" cy="257.7" r="7.9"/><circle cx="718.9" cy="251.6" r="7.9"/><circle cx="979.8" cy="305.5" r="7.9"/><circle cx="842.5" cy="313.9" r="7.9"/><circle cx="522.8" cy="273.5" r="7.9"/><circle cx="340.0" cy="420.5" r="7.9"/><circle cx="339.9" cy="423.6" r="7.9"/><circle cx="675.7" cy="321.9" r="7.9"/><circle cx="363.6" cy="409.4" r="7.9"/><circle cx="882.5" cy="311.4" r="7.9"/><circle cx="819.1" cy="257.9" r="7.9"/><circle cx="797.0" cy="322.1" r="7.9"/><circle cx="895.8" cy="300.4" r="7.9"/><circle cx="730.1" cy="259.9" r="7.9"/><circle cx="532.9" cy="330.9" r="7.9"/><circle cx="642.0" cy="263.0" r="7.9"/><circle cx="679.7" cy="316.9" r="7.9"/><circle cx="684.6" cy="316.9" r="7.9"/><circle cx="418.7" cy="372.0" r="7.9"/><circle cx="541.3" cy="332.4" r="7.9"/><circle cx="713.9" cy="261.1" r="7.9"/><circle cx="361.3" cy="406.1" r="7.9"/><circle cx="650.8" cy="318.8" r="7.9"/><circle cx="895.5" cy="258.7" r="7.9"/><circle cx="207.2" cy="401.3" r="7.9"/><circle cx="584.5" cy="268.2" r="7.9"/><circle cx="764.9" cy="256.8" r="7.9"/><circle cx="702.3" cy="261.8" r="7.9"/><circle cx="835.4" cy="251.5" r="7.9"/><circle cx="499.0" cy="268.3" r="7.9"/><circle cx="888.5" cy="289.4" r="7.9"/><circle cx="245.5" cy="517.8" r="7.9"/><circle cx="474.0" cy="352.7" r="7.9"/><circle cx="749.5" cy="251.3" r="7.9"/><circle cx="321.3" cy="431.2" r="7.9"/><circle cx="581.9" cy="253.2" r="7.9"/><circle cx="738.6" cy="261.9" r="7.9"/><circle cx="1046.0" cy="630.0" r="7.9"/><circle cx="507.0" cy="273.0" r="7.9"/><circle cx="496.5" cy="344.9" r="7.9"/><circle cx="777.9" cy="323.5" r="7.9"/><circle cx="694.4" cy="261.3" r="7.9"/><circle cx="691.8" cy="262.2" r="7.9"/><circle cx="794.6" cy="313.4" r="7.9"/><circle cx="626.8" cy="265.2" r="7.9"/><circle cx="246.7" cy="390.2" r="7.9"/><circle cx="857.7" cy="312.5" r="7.9"/><circle cx="877.7" cy="246.8" r="7.9"/><circle cx="401.3" cy="377.0" r="7.9"/><circle cx="730.3" cy="255.8" r="7.9"/><circle cx="209.8" cy="488.7" r="7.9"/><circle cx="745.8" cy="257.1" r="7.9"/><circle cx="886.6" cy="289.7" r="7.9"/><circle cx="967.7" cy="303.4" r="7.9"/><circle cx="670.7" cy="262.3" r="7.9"/><circle cx="442.3" cy="360.2" r="7.9"/><circle cx="482.5" cy="346.6" r="7.9"/><circle cx="283.0" cy="331.0" r="7.9"/><circle cx="367.3" cy="399.8" r="7.9"/><circle cx="525.9" cy="333.3" r="7.9"/><circle cx="620.2" cy="258.2" r="7.9"/><circle cx="215.5" cy="401.6" r="7.9"/><circle cx="845.3" cy="256.0" r="7.9"/><circle cx="373.4" cy="396.1" r="7.9"/><circle cx="473.2" cy="350.1" r="7.9"/><circle cx="876.9" cy="257.9" r="7.9"/><circle cx="634.9" cy="253.8" r="7.9"/><circle cx="611.0" cy="267.1" r="7.9"/><circle cx="289.5" cy="453.3" r="7.9"/><circle cx="621.8" cy="318.4" r="7.9"/><circle cx="839.6" cy="320.3" r="7.9"/><circle cx="197.9" cy="481.0" r="7.9"/><circle cx="556.7" cy="332.6" r="7.9"/><circle cx="858.1" cy="253.2" r="7.9"/><circle cx="851.3" cy="251.8" r="7.9"/><circle cx="816.7" cy="252.0" r="7.9"/><circle cx="247.6" cy="521.7" r="7.9"/><circle cx="719.4" cy="314.8" r="7.9"/><circle cx="655.0" cy="264.5" r="7.9"/><circle cx="346.3" cy="316.6" r="7.9"/><circle cx="621.5" cy="320.9" r="7.9"/><circle cx="249.7" cy="517.6" r="7.9"/><circle cx="182.4" cy="497.4" r="7.9"/><circle cx="912.9" cy="268.1" r="7.9"/><circle cx="294.8" cy="329.1" r="7.9"/><circle cx="341.6" cy="415.2" r="7.9"/><circle cx="688.1" cy="320.2" r="7.9"/><circle cx="474.4" cy="344.8" r="7.9"/><circle cx="591.4" cy="322.9" r="7.9"/><circle cx="798.0" cy="317.9" r="7.9"/><circle cx="806.4" cy="255.5" r="7.9"/><circle cx="534.3" cy="255.8" r="7.9"/><circle cx="251.5" cy="520.2" r="7.9"/><circle cx="647.4" cy="321.5" r="7.9"/><circle cx="787.4" cy="314.7" r="7.9"/><circle cx="843.3" cy="320.3" r="7.9"/><circle cx="613.8" cy="326.5" r="7.9"/><circle cx="803.9" cy="260.7" r="7.9"/><circle cx="238.5" cy="495.0" r="7.9"/><circle cx="902.1" cy="320.6" r="7.9"/><circle cx="205.8" cy="450.0" r="7.9"/><circle cx="881.0" cy="301.0" r="7.9"/><circle cx="270.1" cy="470.3" r="7.9"/><circle cx="417.7" cy="372.3" r="7.9"/><circle cx="405.0" cy="296.2" r="7.9"/><circle cx="520.3" cy="335.5" r="7.9"/><circle cx="480.4" cy="276.7" r="7.9"/><circle cx="232.7" cy="457.8" r="7.9"/><circle cx="237.7" cy="419.9" r="7.9"/><circle cx="314.5" cy="333.0" r="7.9"/><circle cx="686.7" cy="250.6" r="7.9"/><circle cx="836.9" cy="235.3" r="7.9"/><circle cx="241.3" cy="521.8" r="7.9"/><circle cx="649.7" cy="261.1" r="7.9"/><circle cx="863.0" cy="325.0" r="7.9"/><circle cx="396.2" cy="381.5" r="7.9"/><circle cx="945.5" cy="301.5" r="7.9"/><circle cx="680.9" cy="317.7" r="7.9"/><circle cx="631.7" cy="321.9" r="7.9"/><circle cx="717.3" cy="235.2" r="7.9"/><circle cx="440.1" cy="362.1" r="7.9"/><circle cx="206.9" cy="519.3" r="7.9"/><circle cx="461.0" cy="350.2" r="7.9"/><circle cx="161.8" cy="447.8" r="7.9"/><circle cx="630.9" cy="261.3" r="7.9"/><circle cx="607.2" cy="319.1" r="7.9"/><circle cx="495.9" cy="342.7" r="7.9"/><circle cx="341.4" cy="423.3" r="7.9"/><circle cx="755.2" cy="257.9" r="7.9"/><circle cx="887.0" cy="257.4" r="7.9"/><circle cx="624.1" cy="257.8" r="7.9"/><circle cx="252.8" cy="379.9" r="7.9"/><circle cx="885.6" cy="266.1" r="7.9"/><circle cx="232.6" cy="523.4" r="7.9"/><circle cx="565.0" cy="334.7" r="7.9"/><circle cx="871.1" cy="260.0" r="7.9"/><circle cx="418.8" cy="405.0" r="7.9"/><circle cx="731.0" cy="315.7" r="7.9"/><circle cx="905.9" cy="274.0" r="7.9"/><circle cx="431.0" cy="415.0" r="7.9"/><circle cx="436.6" cy="372.8" r="7.9"/><circle cx="381.2" cy="396.7" r="7.9"/><circle cx="618.6" cy="322.9" r="7.9"/><circle cx="398.0" cy="379.2" r="7.9"/><circle cx="729.2" cy="315.3" r="7.9"/><circle cx="387.6" cy="391.5" r="7.9"/><circle cx="658.9" cy="263.3" r="7.9"/><circle cx="1043.3" cy="621.0" r="7.9"/><circle cx="376.5" cy="393.7" r="7.9"/><circle cx="351.5" cy="413.2" r="7.9"/><circle cx="216.8" cy="523.6" r="7.9"/><circle cx="273.0" cy="496.7" r="7.9"/><circle cx="539.6" cy="260.3" r="7.9"/><circle cx="972.0" cy="387.0" r="7.9"/><circle cx="728.0" cy="323.9" r="7.9"/><circle cx="454.0" cy="282.2" r="7.9"/><circle cx="216.7" cy="463.0" r="7.9"/><circle cx="241.5" cy="502.7" r="7.9"/><circle cx="247.8" cy="406.5" r="7.9"/><circle cx="218.5" cy="403.4" r="7.9"/><circle cx="589.8" cy="328.8" r="7.9"/><circle cx="430.2" cy="362.4" r="7.9"/><circle cx="163.3" cy="465.1" r="7.9"/><circle cx="458.5" cy="280.5" r="7.9"/><circle cx="629.3" cy="267.3" r="7.9"/><circle cx="1229.7" cy="644.0" r="7.9"/><circle cx="524.4" cy="273.7" r="7.9"/><circle cx="517.4" cy="271.0" r="7.9"/><circle cx="272.5" cy="510.0" r="7.9"/><circle cx="701.3" cy="260.9" r="7.9"/><circle cx="266.5" cy="388.3" r="7.9"/><circle cx="851.3" cy="251.7" r="7.9"/><circle cx="216.5" cy="432.2" r="7.9"/><circle cx="708.4" cy="255.5" r="7.9"/><circle cx="250.7" cy="394.0" r="7.9"/><circle cx="563.8" cy="332.1" r="7.9"/><circle cx="370.0" cy="401.3" r="7.9"/><circle cx="421.4" cy="369.7" r="7.9"/><circle cx="291.3" cy="355.3" r="7.9"/><circle cx="906.0" cy="279.7" r="7.9"/><circle cx="1010.0" cy="385.0" r="7.9"/><circle cx="566.3" cy="244.8" r="7.9"/><circle cx="341.0" cy="312.8" r="7.9"/><circle cx="628.4" cy="261.6" r="7.9"/><circle cx="433.5" cy="369.8" r="7.9"/><circle cx="170.5" cy="452.7" r="7.9"/><circle cx="442.8" cy="284.4" r="7.9"/><circle cx="769.5" cy="257.9" r="7.9"/><circle cx="374.5" cy="396.2" r="7.9"/><circle cx="540.3" cy="334.1" r="7.9"/><circle cx="480.0" cy="350.6" r="7.9"/><circle cx="567.6" cy="272.7" r="7.9"/><circle cx="369.9" cy="307.0" r="7.9"/><circle cx="734.1" cy="252.5" r="7.9"/><circle cx="381.3" cy="391.7" r="7.9"/><circle cx="870.0" cy="258.5" r="7.9"/><circle cx="531.7" cy="263.6" r="7.9"/><circle cx="564.6" cy="243.0" r="7.9"/><circle cx="978.7" cy="290.4" r="7.9"/><circle cx="965.0" cy="402.0" r="7.9"/><circle cx="411.1" cy="378.3" r="7.9"/><circle cx="936.5" cy="309.5" r="7.9"/><circle cx="399.3" cy="290.9" r="7.9"/><circle cx="454.2" cy="355.3" r="7.9"/><circle cx="281.5" cy="460.7" r="7.9"/><circle cx="909.9" cy="277.6" r="7.9"/><circle cx="160.7" cy="448.6" r="7.9"/><circle cx="528.8" cy="268.2" r="7.9"/><circle cx="881.9" cy="306.4" r="7.9"/><circle cx="382.1" cy="303.2" r="7.9"/><circle cx="509.7" cy="338.3" r="7.9"/><circle cx="783.3" cy="260.0" r="7.9"/><circle cx="876.3" cy="236.7" r="7.9"/><circle cx="459.3" cy="272.5" r="7.9"/><circle cx="357.2" cy="413.6" r="7.9"/><circle cx="172.2" cy="451.8" r="7.9"/><circle cx="491.3" cy="344.7" r="7.9"/><circle cx="270.0" cy="363.8" r="7.9"/><circle cx="870.9" cy="313.6" r="7.9"/><circle cx="944.7" cy="280.9" r="7.9"/><circle cx="386.1" cy="391.7" r="7.9"/><circle cx="782.0" cy="315.5" r="7.9"/><circle cx="898.2" cy="264.1" r="7.9"/><circle cx="725.9" cy="318.2" r="7.9"/><circle cx="655.3" cy="265.6" r="7.9"/><circle cx="509.6" cy="338.3" r="7.9"/><circle cx="542.8" cy="334.1" r="7.9"/><circle cx="780.3" cy="243.1" r="7.9"/><circle cx="423.8" cy="267.5" r="7.9"/><circle cx="819.6" cy="259.1" r="7.9"/><circle cx="811.3" cy="312.7" r="7.9"/><circle cx="931.6" cy="323.6" r="7.9"/><circle cx="377.2" cy="401.8" r="7.9"/><circle cx="417.5" cy="373.2" r="7.9"/><circle cx="688.4" cy="262.7" r="7.9"/><circle cx="814.5" cy="320.3" r="7.9"/><circle cx="994.3" cy="605.0" r="7.9"/><circle cx="397.5" cy="388.4" r="7.9"/><circle cx="850.7" cy="259.8" r="7.9"/><circle cx="768.9" cy="244.7" r="7.9"/><circle cx="247.8" cy="515.5" r="7.9"/><circle cx="529.1" cy="336.6" r="7.9"/><circle cx="337.7" cy="322.8" r="7.9"/><circle cx="533.5" cy="337.5" r="7.9"/><circle cx="253.2" cy="521.4" r="7.9"/><circle cx="928.4" cy="284.9" r="7.9"/><circle cx="900.8" cy="295.8" r="7.9"/><circle cx="489.0" cy="342.7" r="7.9"/><circle cx="785.4" cy="258.6" r="7.9"/><circle cx="592.6" cy="268.6" r="7.9"/><circle cx="880.2" cy="246.3" r="7.9"/><circle cx="847.6" cy="313.1" r="7.9"/><circle cx="247.4" cy="520.9" r="7.9"/><circle cx="449.1" cy="364.2" r="7.9"/><circle cx="1007.0" cy="342.0" r="7.9"/><circle cx="514.6" cy="274.5" r="7.9"/><circle cx="251.8" cy="521.8" r="7.9"/><circle cx="664.1" cy="318.9" r="7.9"/><circle cx="656.8" cy="261.9" r="7.9"/><circle cx="670.3" cy="262.3" r="7.9"/><circle cx="688.8" cy="261.5" r="7.9"/><circle cx="413.7" cy="377.9" r="7.9"/><circle cx="162.5" cy="445.5" r="7.9"/><circle cx="279.6" cy="364.0" r="7.9"/><circle cx="768.5" cy="320.1" r="7.9"/><circle cx="672.4" cy="260.7" r="7.9"/><circle cx="209.5" cy="393.0" r="7.9"/><circle cx="906.6" cy="271.9" r="7.9"/><circle cx="627.7" cy="261.9" r="7.9"/><circle cx="696.8" cy="258.5" r="7.9"/><circle cx="767.9" cy="315.7" r="7.9"/><circle cx="276.3" cy="468.0" r="7.9"/><circle cx="1249.6" cy="454.4" r="7.9"/><circle cx="748.3" cy="258.7" r="7.9"/><circle cx="245.4" cy="519.7" r="7.9"/><circle cx="884.0" cy="295.2" r="7.9"/><circle cx="829.0" cy="317.0" r="7.9"/><circle cx="424.0" cy="365.0" r="7.9"/><circle cx="177.1" cy="494.0" r="7.9"/><circle cx="1002.0" cy="400.0" r="7.9"/><circle cx="743.2" cy="231.7" r="7.9"/><circle cx="486.1" cy="345.6" r="7.9"/><circle cx="522.0" cy="272.9" r="7.9"/><circle cx="778.5" cy="260.5" r="7.9"/><circle cx="230.7" cy="414.6" r="7.9"/><circle cx="767.9" cy="258.8" r="7.9"/><circle cx="211.7" cy="460.8" r="7.9"/><circle cx="378.7" cy="395.2" r="7.9"/><circle cx="363.0" cy="411.4" r="7.9"/><circle cx="544.7" cy="331.3" r="7.9"/><circle cx="669.4" cy="265.3" r="7.9"/><circle cx="580.0" cy="323.2" r="7.9"/><circle cx="343.0" cy="419.2" r="7.9"/><circle cx="254.8" cy="470.0" r="7.9"/><circle cx="362.5" cy="401.7" r="7.9"/><circle cx="209.1" cy="485.9" r="7.9"/><circle cx="325.5" cy="326.0" r="7.9"/><circle cx="792.9" cy="312.6" r="7.9"/><circle cx="215.5" cy="523.8" r="7.9"/><circle cx="528.3" cy="336.1" r="7.9"/><circle cx="891.2" cy="292.8" r="7.9"/><circle cx="322.5" cy="464.0" r="7.9"/><circle cx="895.8" cy="303.2" r="7.9"/><circle cx="593.7" cy="259.0" r="7.9"/><circle cx="462.9" cy="279.3" r="7.9"/><circle cx="912.0" cy="295.3" r="7.9"/><circle cx="458.9" cy="354.7" r="7.9"/><circle cx="202.2" cy="485.9" r="7.9"/><circle cx="509.6" cy="269.2" r="7.9"/><circle cx="271.4" cy="366.1" r="7.9"/><circle cx="897.4" cy="284.1" r="7.9"/><circle cx="606.7" cy="326.9" r="7.9"/><circle cx="317.7" cy="332.0" r="7.9"/><circle cx="466.9" cy="276.0" r="7.9"/><circle cx="570.7" cy="325.0" r="7.9"/><circle cx="711.8" cy="262.0" r="7.9"/><circle cx="217.1" cy="433.1" r="7.9"/><circle cx="249.8" cy="519.3" r="7.9"/><circle cx="412.5" cy="428.0" r="7.9"/><circle cx="689.5" cy="262.7" r="7.9"/><circle cx="558.1" cy="330.9" r="7.9"/><circle cx="743.8" cy="253.5" r="7.9"/><circle cx="438.8" cy="386.0" r="7.9"/><circle cx="720.0" cy="254.0" r="7.9"/><circle cx="300.8" cy="444.9" r="7.9"/><circle cx="844.4" cy="320.0" r="7.9"/><circle cx="729.0" cy="314.5" r="7.9"/><circle cx="440.2" cy="363.6" r="7.9"/><circle cx="608.9" cy="263.8" r="7.9"/><circle cx="616.3" cy="254.7" r="7.9"/><circle cx="810.6" cy="257.6" r="7.9"/><circle cx="797.0" cy="256.0" r="7.9"/><circle cx="980.0" cy="395.0" r="7.9"/><circle cx="204.7" cy="384.7" r="7.9"/><circle cx="522.6" cy="334.8" r="7.9"/><circle cx="902.2" cy="248.7" r="7.9"/><circle cx="243.5" cy="504.6" r="7.9"/><circle cx="463.3" cy="354.4" r="7.9"/><circle cx="937.0" cy="383.0" r="7.9"/><circle cx="338.5" cy="322.0" r="7.9"/><circle cx="351.8" cy="407.2" r="7.9"/><circle cx="378.1" cy="298.4" r="7.9"/><circle cx="370.6" cy="303.8" r="7.9"/><circle cx="230.2" cy="489.5" r="7.9"/><circle cx="844.1" cy="258.0" r="7.9"/><circle cx="737.7" cy="263.0" r="7.9"/><circle cx="873.3" cy="312.0" r="7.9"/><circle cx="642.9" cy="327.1" r="7.9"/><circle cx="680.8" cy="255.6" r="7.9"/><circle cx="533.9" cy="273.7" r="7.9"/><circle cx="825.6" cy="257.6" r="7.9"/><circle cx="398.2" cy="293.9" r="7.9"/><circle cx="191.8" cy="479.8" r="7.9"/><circle cx="869.8" cy="248.9" r="7.9"/><circle cx="669.7" cy="263.6" r="7.9"/><circle cx="716.4" cy="252.3" r="7.9"/><circle cx="596.0" cy="328.3" r="7.9"/><circle cx="701.2" cy="315.6" r="7.9"/><circle cx="939.0" cy="325.0" r="7.9"/><circle cx="373.0" cy="399.6" r="7.9"/><circle cx="719.8" cy="315.9" r="7.9"/><circle cx="343.1" cy="416.0" r="7.9"/><circle cx="751.9" cy="259.5" r="7.9"/><circle cx="581.6" cy="325.6" r="7.9"/><circle cx="818.8" cy="247.2" r="7.9"/><circle cx="453.8" cy="367.2" r="7.9"/><circle cx="913.1" cy="266.4" r="7.9"/><circle cx="275.3" cy="467.0" r="7.9"/><circle cx="662.3" cy="259.3" r="7.9"/><circle cx="244.8" cy="377.4" r="7.9"/><circle cx="444.7" cy="285.2" r="7.9"/><circle cx="340.8" cy="418.4" r="7.9"/><circle cx="247.5" cy="401.7" r="7.9"/><circle cx="796.7" cy="318.0" r="7.9"/><circle cx="726.7" cy="316.0" r="7.9"/><circle cx="832.1" cy="311.6" r="7.9"/><circle cx="194.9" cy="477.9" r="7.9"/><circle cx="239.0" cy="457.8" r="7.9"/><circle cx="572.3" cy="327.8" r="7.9"/><circle cx="946.8" cy="261.5" r="7.9"/><circle cx="655.3" cy="262.8" r="7.9"/><circle cx="562.6" cy="265.3" r="7.9"/><circle cx="682.6" cy="264.8" r="7.9"/><circle cx="330.3" cy="423.5" r="7.9"/><circle cx="469.0" cy="273.6" r="7.9"/><circle cx="161.9" cy="447.9" r="7.9"/><circle cx="631.5" cy="319.5" r="7.9"/><circle cx="809.0" cy="255.9" r="7.9"/><circle cx="415.5" cy="291.4" r="7.9"/><circle cx="368.1" cy="399.5" r="7.9"/><circle cx="389.4" cy="389.3" r="7.9"/><circle cx="201.4" cy="485.4" r="7.9"/><circle cx="710.5" cy="259.1" r="7.9"/><circle cx="469.8" cy="346.4" r="7.9"/><circle cx="880.6" cy="276.6" r="7.9"/><circle cx="677.3" cy="258.3" r="7.9"/><circle cx="211.5" cy="486.7" r="7.9"/><circle cx="232.6" cy="491.1" r="7.9"/><circle cx="881.4" cy="250.0" r="7.9"/><circle cx="291.7" cy="353.4" r="7.9"/><circle cx="993.7" cy="298.0" r="7.9"/><circle cx="611.0" cy="322.9" r="7.9"/><circle cx="269.2" cy="357.7" r="7.9"/><circle cx="709.1" cy="260.5" r="7.9"/><circle cx="625.2" cy="233.8" r="7.9"/><circle cx="486.4" cy="260.6" r="7.9"/><circle cx="598.2" cy="321.1" r="7.9"/><circle cx="458.2" cy="278.6" r="7.9"/><circle cx="247.7" cy="394.5" r="7.9"/><circle cx="272.4" cy="380.9" r="7.9"/><circle cx="244.0" cy="366.0" r="7.9"/><circle cx="1073.3" cy="651.0" r="7.9"/><circle cx="806.1" cy="257.2" r="7.9"/><circle cx="784.7" cy="317.5" r="7.9"/><circle cx="584.4" cy="322.9" r="7.9"/><circle cx="742.1" cy="254.8" r="7.9"/><circle cx="265.8" cy="467.5" r="7.9"/><circle cx="477.5" cy="270.2" r="7.9"/><circle cx="425.8" cy="365.4" r="7.9"/><circle cx="1010.3" cy="522.0" r="7.9"/><circle cx="208.6" cy="488.2" r="7.9"/><circle cx="677.0" cy="217.0" r="7.9"/><circle cx="865.1" cy="257.1" r="7.9"/><circle cx="629.4" cy="261.9" r="7.9"/><circle cx="220.5" cy="524.7" r="7.9"/><circle cx="979.0" cy="494.3" r="7.9"/><circle cx="857.1" cy="316.8" r="7.9"/><circle cx="540.6" cy="270.5" r="7.9"/><circle cx="527.5" cy="335.7" r="7.9"/><circle cx="847.0" cy="258.0" r="7.9"/><circle cx="373.8" cy="394.6" r="7.9"/><circle cx="853.8" cy="258.1" r="7.9"/><circle cx="336.1" cy="423.5" r="7.9"/><circle cx="221.1" cy="490.1" r="7.9"/><circle cx="638.6" cy="321.6" r="7.9"/><circle cx="672.4" cy="318.2" r="7.9"/><circle cx="1273.2" cy="319.2" r="7.9"/><circle cx="245.0" cy="418.8" r="7.9"/><circle cx="466.8" cy="348.9" r="7.9"/><circle cx="791.4" cy="317.5" r="7.9"/><circle cx="695.8" cy="321.1" r="7.9"/><circle cx="744.4" cy="314.6" r="7.9"/><circle cx="308.4" cy="334.9" r="7.9"/><circle cx="233.0" cy="522.6" r="7.9"/><circle cx="524.3" cy="266.8" r="7.9"/><circle cx="610.6" cy="267.5" r="7.9"/><circle cx="498.7" cy="269.6" r="7.9"/><circle cx="510.4" cy="265.1" r="7.9"/><circle cx="675.5" cy="253.2" r="7.9"/><circle cx="926.5" cy="321.5" r="7.9"/><circle cx="648.1" cy="257.7" r="7.9"/><circle cx="701.5" cy="320.3" r="7.9"/><circle cx="872.1" cy="251.5" r="7.9"/><circle cx="563.9" cy="260.2" r="7.9"/><circle cx="775.1" cy="317.0" r="7.9"/><circle cx="430.0" cy="366.6" r="7.9"/><circle cx="230.8" cy="453.9" r="7.9"/><circle cx="604.0" cy="323.8" r="7.9"/><circle cx="751.2" cy="245.8" r="7.9"/><circle cx="775.0" cy="256.8" r="7.9"/><circle cx="721.2" cy="317.2" r="7.9"/><circle cx="745.3" cy="320.9" r="7.9"/><circle cx="978.0" cy="410.0" r="7.9"/><circle cx="440.9" cy="281.5" r="7.9"/><circle cx="647.6" cy="322.5" r="7.9"/><circle cx="587.5" cy="270.5" r="7.9"/><circle cx="670.6" cy="258.8" r="7.9"/><circle cx="891.2" cy="313.8" r="7.9"/><circle cx="231.6" cy="415.3" r="7.9"/><circle cx="954.9" cy="308.1" r="7.9"/><circle cx="775.1" cy="259.9" r="7.9"/><circle cx="547.6" cy="333.3" r="7.9"/><circle cx="699.6" cy="261.2" r="7.9"/><circle cx="447.1" cy="282.5" r="7.9"/><circle cx="966.2" cy="294.9" r="7.9"/><circle cx="347.9" cy="419.1" r="7.9"/><circle cx="630.4" cy="265.7" r="7.9"/><circle cx="625.0" cy="234.0" r="7.9"/><circle cx="523.7" cy="272.2" r="7.9"/><circle cx="511.8" cy="273.8" r="7.9"/><circle cx="164.9" cy="470.9" r="7.9"/><circle cx="818.7" cy="316.3" r="7.9"/><circle cx="677.2" cy="231.6" r="7.9"/><circle cx="706.2" cy="240.9" r="7.9"/><circle cx="1034.3" cy="526.7" r="7.9"/><circle cx="1013.0" cy="398.0" r="7.9"/><circle cx="748.3" cy="320.5" r="7.9"/><circle cx="229.4" cy="523.4" r="7.9"/><circle cx="328.3" cy="320.6" r="7.9"/><circle cx="607.4" cy="267.8" r="7.9"/><circle cx="713.8" cy="258.5" r="7.9"/><circle cx="663.4" cy="232.6" r="7.9"/><circle cx="595.6" cy="323.6" r="7.9"/><circle cx="205.4" cy="516.0" r="7.9"/><circle cx="837.0" cy="257.1" r="7.9"/><circle cx="808.0" cy="238.2" r="7.9"/><circle cx="521.2" cy="273.3" r="7.9"/><circle cx="772.5" cy="258.4" r="7.9"/><circle cx="344.3" cy="321.2" r="7.9"/><circle cx="387.2" cy="388.4" r="7.9"/><circle cx="743.5" cy="313.8" r="7.9"/><circle cx="917.1" cy="252.1" r="7.9"/><circle cx="616.0" cy="260.8" r="7.9"/><circle cx="670.6" cy="238.6" r="7.9"/><circle cx="176.4" cy="486.1" r="7.9"/><circle cx="249.1" cy="375.9" r="7.9"/><circle cx="732.7" cy="259.6" r="7.9"/><circle cx="419.0" cy="404.0" r="7.9"/><circle cx="407.6" cy="373.2" r="7.9"/><circle cx="552.2" cy="264.4" r="7.9"/><circle cx="385.6" cy="391.3" r="7.9"/><circle cx="416.7" cy="372.3" r="7.9"/><circle cx="840.5" cy="245.3" r="7.9"/><circle cx="677.4" cy="260.2" r="7.9"/><circle cx="548.2" cy="274.5" r="7.9"/><circle cx="542.9" cy="270.4" r="7.9"/><circle cx="361.2" cy="403.4" r="7.9"/><circle cx="914.7" cy="299.8" r="7.9"/><circle cx="827.3" cy="258.6" r="7.9"/><circle cx="690.2" cy="315.5" r="7.9"/><circle cx="365.2" cy="404.6" r="7.9"/><circle cx="772.5" cy="257.8" r="7.9"/><circle cx="550.7" cy="273.0" r="7.9"/><circle cx="383.0" cy="396.6" r="7.9"/><circle cx="884.8" cy="277.5" r="7.9"/><circle cx="569.1" cy="256.9" r="7.9"/><circle cx="856.3" cy="260.6" r="7.9"/><circle cx="381.7" cy="282.5" r="7.9"/><circle cx="883.8" cy="250.7" r="7.9"/><circle cx="271.8" cy="360.1" r="7.9"/><circle cx="999.1" cy="308.4" r="7.9"/><circle cx="370.1" cy="302.3" r="7.9"/><circle cx="635.8" cy="267.1" r="7.9"/><circle cx="480.5" cy="274.6" r="7.9"/><circle cx="849.7" cy="240.7" r="7.9"/><circle cx="273.7" cy="376.2" r="7.9"/><circle cx="699.6" cy="253.7" r="7.9"/><circle cx="722.8" cy="247.8" r="7.9"/><circle cx="652.0" cy="325.8" r="7.9"/><circle cx="440.7" cy="356.6" r="7.9"/><circle cx="993.0" cy="252.0" r="7.9"/><circle cx="453.0" cy="278.4" r="7.9"/><circle cx="309.2" cy="327.0" r="7.9"/><circle cx="585.0" cy="269.0" r="7.9"/><circle cx="488.7" cy="274.7" r="7.9"/><circle cx="241.4" cy="520.2" r="7.9"/><circle cx="1065.0" cy="442.5" r="7.9"/><circle cx="664.5" cy="318.3" r="7.9"/><circle cx="327.5" cy="440.0" r="7.9"/><circle cx="948.0" cy="262.4" r="7.9"/><circle cx="306.2" cy="434.9" r="7.9"/><circle cx="1036.7" cy="652.7" r="7.9"/><circle cx="651.3" cy="258.1" r="7.9"/><circle cx="773.6" cy="316.8" r="7.9"/><circle cx="673.9" cy="251.8" r="7.9"/><circle cx="374.4" cy="301.6" r="7.9"/><circle cx="571.9" cy="249.0" r="7.9"/><circle cx="182.9" cy="469.8" r="7.9"/><circle cx="246.3" cy="381.9" r="7.9"/><circle cx="276.0" cy="466.0" r="7.9"/><circle cx="350.7" cy="415.3" r="7.9"/><circle cx="248.8" cy="385.5" r="7.9"/><circle cx="903.2" cy="265.4" r="7.9"/><circle cx="892.0" cy="309.5" r="7.9"/><circle cx="559.4" cy="328.8" r="7.9"/><circle cx="871.6" cy="315.0" r="7.9"/><circle cx="803.5" cy="261.1" r="7.9"/><circle cx="779.7" cy="315.8" r="7.9"/><circle cx="594.8" cy="267.7" r="7.9"/><circle cx="730.3" cy="317.5" r="7.9"/><circle cx="386.0" cy="389.3" r="7.9"/><circle cx="818.5" cy="256.8" r="7.9"/><circle cx="731.1" cy="318.2" r="7.9"/><circle cx="163.7" cy="457.8" r="7.9"/><circle cx="697.4" cy="260.9" r="7.9"/><circle cx="759.2" cy="259.3" r="7.9"/><circle cx="715.4" cy="318.5" r="7.9"/><circle cx="436.7" cy="282.5" r="7.9"/><circle cx="165.3" cy="467.9" r="7.9"/><circle cx="1046.0" cy="495.0" r="7.9"/><circle cx="750.0" cy="320.0" r="7.9"/><circle cx="241.9" cy="500.5" r="7.9"/><circle cx="452.5" cy="381.0" r="7.9"/><circle cx="556.0" cy="201.0" r="7.9"/><circle cx="394.5" cy="381.3" r="7.9"/><circle cx="348.5" cy="319.0" r="7.9"/><circle cx="1050.0" cy="316.0" r="7.9"/><circle cx="338.3" cy="419.4" r="7.9"/><circle cx="200.6" cy="517.2" r="7.9"/><circle cx="850.2" cy="313.0" r="7.9"/><circle cx="459.0" cy="274.9" r="7.9"/><circle cx="505.5" cy="346.1" r="7.9"/><circle cx="488.1" cy="348.3" r="7.9"/><circle cx="685.6" cy="320.6" r="7.9"/><circle cx="588.5" cy="269.9" r="7.9"/><circle cx="248.3" cy="378.3" r="7.9"/><circle cx="564.2" cy="326.1" r="7.9"/><circle cx="252.0" cy="385.4" r="7.9"/><circle cx="300.0" cy="330.5" r="7.9"/><circle cx="778.7" cy="256.1" r="7.9"/><circle cx="1020.7" cy="537.3" r="7.9"/><circle cx="484.6" cy="274.9" r="7.9"/><circle cx="507.5" cy="237.5" r="7.9"/><circle cx="406.4" cy="295.3" r="7.9"/><circle cx="190.0" cy="475.4" r="7.9"/><circle cx="577.7" cy="323.3" r="7.9"/><circle cx="683.0" cy="261.3" r="7.9"/><circle cx="1078.7" cy="668.3" r="7.9"/><circle cx="557.9" cy="325.3" r="7.9"/><circle cx="867.3" cy="252.6" r="7.9"/><circle cx="775.2" cy="323.8" r="7.9"/><circle cx="183.9" cy="500.9" r="7.9"/><circle cx="787.4" cy="317.3" r="7.9"/><circle cx="759.6" cy="319.0" r="7.9"/><circle cx="295.8" cy="513.0" r="7.9"/><circle cx="195.7" cy="509.5" r="7.9"/><circle cx="554.6" cy="335.4" r="7.9"/><circle cx="640.6" cy="265.7" r="7.9"/><circle cx="723.7" cy="317.7" r="7.9"/><circle cx="201.7" cy="516.0" r="7.9"/><circle cx="933.1" cy="296.5" r="7.9"/><circle cx="905.3" cy="308.9" r="7.9"/><circle cx="202.7" cy="519.0" r="7.9"/><circle cx="629.6" cy="265.0" r="7.9"/><circle cx="677.5" cy="264.1" r="7.9"/><circle cx="385.5" cy="455.0" r="7.9"/><circle cx="856.1" cy="260.1" r="7.9"/><circle cx="304.6" cy="438.9" r="7.9"/><circle cx="840.7" cy="255.8" r="7.9"/><circle cx="478.9" cy="276.5" r="7.9"/><circle cx="599.1" cy="265.6" r="7.9"/><circle cx="807.3" cy="315.0" r="7.9"/><circle cx="358.6" cy="307.7" r="7.9"/><circle cx="757.8" cy="259.6" r="7.9"/><circle cx="772.0" cy="316.5" r="7.9"/><circle cx="422.0" cy="288.4" r="7.9"/><circle cx="646.5" cy="252.1" r="7.9"/><circle cx="886.6" cy="314.6" r="7.9"/><circle cx="406.0" cy="380.7" r="7.9"/><circle cx="601.2" cy="260.6" r="7.9"/><circle cx="1000.0" cy="410.0" r="7.9"/><circle cx="368.3" cy="303.5" r="7.9"/><circle cx="316.9" cy="332.2" r="7.9"/><circle cx="635.7" cy="264.1" r="7.9"/><circle cx="173.7" cy="484.0" r="7.9"/><circle cx="595.1" cy="262.4" r="7.9"/><circle cx="236.7" cy="520.4" r="7.9"/><circle cx="485.2" cy="346.4" r="7.9"/><circle cx="161.6" cy="449.4" r="7.9"/><circle cx="546.0" cy="335.1" r="7.9"/><circle cx="178.6" cy="492.8" r="7.9"/><circle cx="363.9" cy="400.1" r="7.9"/><circle cx="895.0" cy="301.0" r="7.9"/><circle cx="413.5" cy="370.0" r="7.9"/><circle cx="430.4" cy="287.0" r="7.9"/><circle cx="251.5" cy="402.7" r="7.9"/><circle cx="720.7" cy="257.6" r="7.9"/><circle cx="271.5" cy="470.6" r="7.9"/><circle cx="700.3" cy="256.8" r="7.9"/><circle cx="400.6" cy="298.0" r="7.9"/><circle cx="833.4" cy="256.7" r="7.9"/><circle cx="895.9" cy="285.0" r="7.9"/><circle cx="537.2" cy="266.2" r="7.9"/><circle cx="366.8" cy="398.2" r="7.9"/><circle cx="270.8" cy="366.1" r="7.9"/><circle cx="1028.0" cy="336.0" r="7.9"/><circle cx="629.2" cy="317.8" r="7.9"/><circle cx="603.1" cy="259.5" r="7.9"/><circle cx="284.7" cy="334.3" r="7.9"/><circle cx="681.7" cy="316.6" r="7.9"/><circle cx="343.8" cy="317.9" r="7.9"/><circle cx="210.0" cy="420.8" r="7.9"/><circle cx="441.2" cy="356.6" r="7.9"/><circle cx="324.5" cy="427.0" r="7.9"/><circle cx="228.4" cy="452.7" r="7.9"/><circle cx="854.0" cy="324.3" r="7.9"/><circle cx="786.6" cy="312.7" r="7.9"/><circle cx="210.7" cy="424.3" r="7.9"/><circle cx="247.6" cy="375.4" r="7.9"/><circle cx="547.8" cy="327.2" r="7.9"/><circle cx="798.4" cy="315.4" r="7.9"/><circle cx="549.7" cy="272.8" r="7.9"/><circle cx="682.8" cy="315.9" r="7.9"/><circle cx="711.8" cy="316.0" r="7.9"/><circle cx="667.0" cy="262.5" r="7.9"/><circle cx="944.6" cy="292.7" r="7.9"/><circle cx="696.8" cy="257.5" r="7.9"/><circle cx="640.3" cy="261.7" r="7.9"/><circle cx="748.1" cy="261.4" r="7.9"/><circle cx="900.9" cy="306.8" r="7.9"/><circle cx="860.2" cy="253.3" r="7.9"/><circle cx="748.8" cy="316.8" r="7.9"/><circle cx="628.0" cy="326.6" r="7.9"/><circle cx="382.0" cy="391.4" r="7.9"/><circle cx="539.4" cy="266.8" r="7.9"/><circle cx="946.8" cy="265.3" r="7.9"/><circle cx="232.5" cy="457.0" r="7.9"/><circle cx="799.5" cy="315.8" r="7.9"/><circle cx="406.8" cy="377.9" r="7.9"/><circle cx="290.3" cy="357.4" r="7.9"/><circle cx="831.1" cy="260.1" r="7.9"/><circle cx="196.7" cy="463.0" r="7.9"/><circle cx="424.1" cy="287.6" r="7.9"/><circle cx="480.0" cy="345.1" r="7.9"/><circle cx="685.1" cy="251.8" r="7.9"/><circle cx="383.2" cy="300.8" r="7.9"/><circle cx="826.8" cy="256.4" r="7.9"/><circle cx="519.5" cy="270.4" r="7.9"/><circle cx="459.0" cy="358.7" r="7.9"/><circle cx="777.8" cy="319.1" r="7.9"/><circle cx="933.9" cy="270.7" r="7.9"/><circle cx="725.3" cy="255.3" r="7.9"/><circle cx="288.5" cy="346.7" r="7.9"/><circle cx="467.1" cy="350.8" r="7.9"/><circle cx="863.1" cy="312.1" r="7.9"/><circle cx="400.8" cy="389.6" r="7.9"/><circle cx="613.4" cy="264.6" r="7.9"/><circle cx="271.4" cy="380.1" r="7.9"/><circle cx="548.7" cy="328.9" r="7.9"/><circle cx="633.6" cy="317.6" r="7.9"/><circle cx="555.3" cy="260.0" r="7.9"/><circle cx="448.8" cy="362.3" r="7.9"/><circle cx="273.1" cy="365.9" r="7.9"/><circle cx="364.3" cy="304.7" r="7.9"/><circle cx="660.7" cy="264.3" r="7.9"/><circle cx="456.9" cy="353.8" r="7.9"/><circle cx="885.4" cy="281.8" r="7.9"/><circle cx="155.3" cy="440.7" r="7.9"/><circle cx="461.4" cy="352.2" r="7.9"/><circle cx="447.3" cy="356.0" r="7.9"/><circle cx="900.1" cy="304.7" r="7.9"/><circle cx="609.3" cy="256.0" r="7.9"/><circle cx="747.9" cy="319.0" r="7.9"/><circle cx="374.6" cy="301.6" r="7.9"/><circle cx="777.3" cy="257.2" r="7.9"/><circle cx="623.1" cy="257.7" r="7.9"/><circle cx="756.3" cy="319.7" r="7.9"/><circle cx="460.2" cy="278.8" r="7.9"/><circle cx="923.4" cy="315.2" r="7.9"/><circle cx="456.8" cy="273.4" r="7.9"/><circle cx="987.2" cy="275.0" r="7.9"/><circle cx="938.1" cy="300.2" r="7.9"/><circle cx="576.1" cy="326.8" r="7.9"/><circle cx="266.7" cy="389.5" r="7.9"/><circle cx="868.8" cy="251.9" r="7.9"/><circle cx="442.6" cy="287.0" r="7.9"/><circle cx="250.7" cy="517.6" r="7.9"/><circle cx="753.5" cy="261.1" r="7.9"/><circle cx="238.0" cy="495.5" r="7.9"/><circle cx="392.0" cy="382.7" r="7.9"/><circle cx="551.6" cy="263.8" r="7.9"/><circle cx="593.4" cy="253.1" r="7.9"/><circle cx="914.6" cy="290.6" r="7.9"/><circle cx="962.0" cy="276.5" r="7.9"/><circle cx="188.8" cy="476.1" r="7.9"/><circle cx="907.7" cy="263.3" r="7.9"/><circle cx="362.8" cy="311.6" r="7.9"/><circle cx="546.0" cy="268.3" r="7.9"/><circle cx="660.8" cy="258.9" r="7.9"/><circle cx="846.1" cy="316.3" r="7.9"/><circle cx="217.6" cy="486.5" r="7.9"/><circle cx="556.6" cy="271.4" r="7.9"/><circle cx="881.3" cy="298.7" r="7.9"/><circle cx="271.3" cy="366.1" r="7.9"/><circle cx="601.5" cy="249.4" r="7.9"/><circle cx="613.4" cy="324.1" r="7.9"/><circle cx="648.2" cy="253.9" r="7.9"/><circle cx="377.5" cy="461.0" r="7.9"/><circle cx="888.9" cy="306.0" r="7.9"/><circle cx="253.5" cy="469.3" r="7.9"/><circle cx="320.8" cy="327.2" r="7.9"/><circle cx="555.4" cy="262.5" r="7.9"/><circle cx="715.4" cy="315.4" r="7.9"/><circle cx="865.4" cy="230.5" r="7.9"/><circle cx="262.0" cy="470.6" r="7.9"/><circle cx="307.6" cy="439.3" r="7.9"/><circle cx="642.6" cy="318.7" r="7.9"/><circle cx="247.2" cy="518.5" r="7.9"/><circle cx="693.4" cy="254.1" r="7.9"/><circle cx="933.4" cy="279.7" r="7.9"/><circle cx="776.6" cy="258.7" r="7.9"/><circle cx="554.5" cy="270.2" r="7.9"/><circle cx="751.1" cy="257.8" r="7.9"/><circle cx="444.8" cy="282.8" r="7.9"/><circle cx="538.3" cy="266.1" r="7.9"/><circle cx="846.0" cy="313.4" r="7.9"/><circle cx="281.0" cy="460.5" r="7.9"/><circle cx="527.7" cy="333.8" r="7.9"/><circle cx="405.1" cy="298.7" r="7.9"/><circle cx="900.8" cy="254.9" r="7.9"/><circle cx="793.5" cy="320.3" r="7.9"/><circle cx="674.8" cy="260.9" r="7.9"/><circle cx="540.1" cy="331.6" r="7.9"/><circle cx="775.0" cy="257.6" r="7.9"/><circle cx="205.4" cy="519.8" r="7.9"/><circle cx="778.4" cy="252.7" r="7.9"/><circle cx="562.4" cy="327.2" r="7.9"/><circle cx="623.3" cy="322.9" r="7.9"/><circle cx="913.9" cy="271.0" r="7.9"/><circle cx="435.6" cy="285.5" r="7.9"/><circle cx="620.3" cy="267.0" r="7.9"/><circle cx="570.9" cy="272.2" r="7.9"/><circle cx="708.3" cy="318.3" r="7.9"/><circle cx="796.0" cy="257.4" r="7.9"/><circle cx="863.1" cy="318.6" r="7.9"/><circle cx="613.3" cy="254.5" r="7.9"/><circle cx="764.1" cy="253.2" r="7.9"/><circle cx="515.5" cy="336.9" r="7.9"/><circle cx="807.7" cy="259.3" r="7.9"/><circle cx="675.0" cy="225.0" r="7.9"/><circle cx="723.9" cy="261.8" r="7.9"/><circle cx="637.0" cy="234.0" r="7.9"/><circle cx="530.1" cy="265.7" r="7.9"/><circle cx="911.1" cy="289.9" r="7.9"/><circle cx="455.9" cy="361.9" r="7.9"/><circle cx="980.0" cy="327.0" r="7.9"/><circle cx="929.3" cy="266.4" r="7.9"/><circle cx="469.1" cy="347.4" r="7.9"/><circle cx="823.6" cy="312.9" r="7.9"/><circle cx="411.0" cy="374.2" r="7.9"/><circle cx="773.1" cy="314.4" r="7.9"/><circle cx="264.7" cy="387.7" r="7.9"/><circle cx="876.0" cy="258.1" r="7.9"/><circle cx="216.1" cy="526.2" r="7.9"/><circle cx="662.9" cy="318.6" r="7.9"/><circle cx="581.8" cy="262.5" r="7.9"/><circle cx="661.4" cy="252.8" r="7.9"/><circle cx="345.7" cy="416.1" r="7.9"/><circle cx="475.5" cy="344.5" r="7.9"/><circle cx="567.0" cy="234.0" r="7.9"/><circle cx="511.4" cy="273.7" r="7.9"/><circle cx="801.6" cy="254.5" r="7.9"/><circle cx="915.9" cy="317.6" r="7.9"/><circle cx="287.3" cy="450.7" r="7.9"/><circle cx="698.8" cy="323.2" r="7.9"/><circle cx="938.1" cy="313.7" r="7.9"/><circle cx="643.1" cy="254.8" r="7.9"/><circle cx="344.6" cy="320.7" r="7.9"/><circle cx="804.0" cy="244.9" r="7.9"/><circle cx="782.9" cy="322.5" r="7.9"/><circle cx="448.8" cy="358.0" r="7.9"/><circle cx="818.6" cy="257.9" r="7.9"/><circle cx="613.5" cy="243.1" r="7.9"/><circle cx="833.6" cy="247.0" r="7.9"/><circle cx="233.2" cy="523.0" r="7.9"/><circle cx="773.8" cy="258.8" r="7.9"/><circle cx="446.0" cy="283.6" r="7.9"/><circle cx="915.6" cy="291.3" r="7.9"/><circle cx="781.4" cy="261.7" r="7.9"/><circle cx="784.2" cy="261.1" r="7.9"/><circle cx="571.3" cy="269.1" r="7.9"/><circle cx="420.5" cy="372.7" r="7.9"/><circle cx="631.4" cy="319.6" r="7.9"/><circle cx="610.0" cy="264.6" r="7.9"/><circle cx="705.5" cy="316.3" r="7.9"/><circle cx="743.4" cy="318.3" r="7.9"/><circle cx="866.7" cy="258.8" r="7.9"/><circle cx="865.0" cy="324.1" r="7.9"/><circle cx="505.1" cy="273.0" r="7.9"/><circle cx="496.9" cy="274.7" r="7.9"/><circle cx="284.0" cy="529.0" r="7.9"/><circle cx="154.2" cy="432.5" r="7.9"/><circle cx="157.4" cy="442.4" r="7.9"/><circle cx="332.3" cy="420.7" r="7.9"/><circle cx="349.3" cy="314.8" r="7.9"/><circle cx="458.1" cy="281.2" r="7.9"/><circle cx="586.5" cy="321.0" r="7.9"/><circle cx="249.3" cy="388.1" r="7.9"/><circle cx="724.6" cy="317.4" r="7.9"/><circle cx="901.3" cy="268.4" r="7.9"/><circle cx="511.3" cy="271.7" r="7.9"/><circle cx="782.5" cy="257.9" r="7.9"/><circle cx="829.4" cy="314.1" r="7.9"/><circle cx="353.7" cy="411.2" r="7.9"/><circle cx="694.0" cy="315.4" r="7.9"/><circle cx="961.3" cy="275.2" r="7.9"/><circle cx="796.8" cy="314.1" r="7.9"/><circle cx="854.7" cy="242.5" r="7.9"/><circle cx="715.6" cy="253.8" r="7.9"/><circle cx="324.4" cy="324.9" r="7.9"/><circle cx="556.5" cy="260.1" r="7.9"/><circle cx="167.8" cy="479.8" r="7.9"/><circle cx="602.0" cy="320.0" r="7.9"/><circle cx="890.1" cy="250.6" r="7.9"/><circle cx="209.0" cy="408.1" r="7.9"/><circle cx="205.5" cy="520.3" r="7.9"/><circle cx="841.8" cy="312.1" r="7.9"/><circle cx="333.6" cy="419.4" r="7.9"/><circle cx="812.0" cy="319.1" r="7.9"/><circle cx="614.6" cy="259.9" r="7.9"/><circle cx="308.1" cy="442.8" r="7.9"/><circle cx="842.5" cy="314.5" r="7.9"/><circle cx="944.0" cy="289.2" r="7.9"/><circle cx="648.7" cy="250.2" r="7.9"/><circle cx="825.5" cy="315.4" r="7.9"/><circle cx="837.7" cy="311.4" r="7.9"/><circle cx="440.4" cy="367.1" r="7.9"/><circle cx="312.8" cy="433.2" r="7.9"/><circle cx="342.8" cy="415.1" r="7.9"/><circle cx="823.1" cy="246.8" r="7.9"/><circle cx="348.4" cy="412.6" r="7.9"/><circle cx="211.8" cy="397.4" r="7.9"/><circle cx="493.6" cy="345.3" r="7.9"/><circle cx="865.7" cy="324.3" r="7.9"/><circle cx="711.9" cy="317.5" r="7.9"/><circle cx="838.6" cy="247.1" r="7.9"/><circle cx="463.9" cy="274.7" r="7.9"/><circle cx="864.9" cy="314.2" r="7.9"/><circle cx="741.6" cy="318.3" r="7.9"/><circle cx="859.3" cy="314.8" r="7.9"/><circle cx="935.4" cy="292.1" r="7.9"/><circle cx="446.6" cy="279.6" r="7.9"/><circle cx="638.2" cy="254.1" r="7.9"/><circle cx="905.3" cy="254.2" r="7.9"/><circle cx="463.7" cy="352.1" r="7.9"/><circle cx="256.7" cy="491.7" r="7.9"/><circle cx="895.9" cy="283.3" r="7.9"/><circle cx="574.2" cy="271.8" r="7.9"/><circle cx="754.1" cy="254.6" r="7.9"/><circle cx="850.0" cy="252.5" r="7.9"/><circle cx="237.8" cy="460.2" r="7.9"/><circle cx="813.3" cy="261.1" r="7.9"/><circle cx="897.0" cy="270.9" r="7.9"/><circle cx="522.9" cy="332.0" r="7.9"/><circle cx="195.7" cy="510.6" r="7.9"/><circle cx="274.8" cy="359.4" r="7.9"/><circle cx="579.1" cy="271.2" r="7.9"/><circle cx="554.7" cy="270.5" r="7.9"/><circle cx="433.4" cy="288.0" r="7.9"/><circle cx="713.3" cy="263.0" r="7.9"/><circle cx="595.0" cy="236.0" r="7.9"/><circle cx="872.8" cy="260.5" r="7.9"/><circle cx="831.4" cy="313.7" r="7.9"/><circle cx="272.4" cy="360.7" r="7.9"/><circle cx="651.9" cy="246.6" r="7.9"/><circle cx="648.0" cy="320.8" r="7.9"/><circle cx="714.7" cy="262.8" r="7.9"/><circle cx="283.6" cy="360.4" r="7.9"/><circle cx="309.5" cy="331.6" r="7.9"/><circle cx="214.5" cy="432.1" r="7.9"/><circle cx="714.2" cy="315.2" r="7.9"/><circle cx="611.6" cy="322.9" r="7.9"/><circle cx="365.0" cy="401.0" r="7.9"/><circle cx="432.4" cy="287.2" r="7.9"/><circle cx="382.5" cy="394.8" r="7.9"/><circle cx="982.0" cy="454.0" r="7.9"/><circle cx="864.6" cy="236.3" r="7.9"/><circle cx="885.2" cy="297.0" r="7.9"/><circle cx="439.1" cy="284.0" r="7.9"/><circle cx="248.2" cy="521.3" r="7.9"/><circle cx="838.7" cy="244.1" r="7.9"/><circle cx="184.0" cy="501.0" r="7.9"/><circle cx="591.4" cy="268.9" r="7.9"/><circle cx="663.2" cy="264.0" r="7.9"/><circle cx="698.3" cy="261.8" r="7.9"/><circle cx="800.3" cy="248.6" r="7.9"/><circle cx="531.1" cy="266.9" r="7.9"/><circle cx="645.4" cy="322.5" r="7.9"/><circle cx="597.8" cy="324.3" r="7.9"/><circle cx="287.0" cy="338.1" r="7.9"/><circle cx="295.5" cy="448.5" r="7.9"/><circle cx="881.2" cy="308.1" r="7.9"/><circle cx="452.5" cy="361.9" r="7.9"/><circle cx="351.3" cy="409.1" r="7.9"/><circle cx="290.5" cy="347.5" r="7.9"/><circle cx="635.4" cy="256.4" r="7.9"/><circle cx="248.7" cy="401.4" r="7.9"/><circle cx="848.8" cy="260.5" r="7.9"/><circle cx="811.6" cy="316.3" r="7.9"/><circle cx="894.8" cy="316.1" r="7.9"/><circle cx="272.6" cy="357.4" r="7.9"/><circle cx="481.5" cy="275.1" r="7.9"/><circle cx="554.7" cy="325.9" r="7.9"/><circle cx="586.7" cy="321.0" r="7.9"/><circle cx="237.9" cy="497.8" r="7.9"/><circle cx="882.3" cy="266.3" r="7.9"/><circle cx="651.3" cy="318.6" r="7.9"/><circle cx="473.1" cy="269.5" r="7.9"/><circle cx="554.7" cy="274.0" r="7.9"/><circle cx="960.0" cy="312.1" r="7.9"/><circle cx="167.5" cy="468.9" r="7.9"/><circle cx="473.8" cy="348.3" r="7.9"/><circle cx="603.6" cy="258.8" r="7.9"/><circle cx="221.3" cy="411.4" r="7.9"/><circle cx="245.5" cy="372.0" r="7.9"/><circle cx="677.4" cy="263.5" r="7.9"/><circle cx="441.0" cy="362.6" r="7.9"/><circle cx="239.1" cy="523.6" r="7.9"/><circle cx="854.2" cy="313.2" r="7.9"/><circle cx="178.8" cy="459.3" r="7.9"/><circle cx="247.2" cy="518.4" r="7.9"/><circle cx="508.4" cy="270.4" r="7.9"/><circle cx="647.3" cy="318.8" r="7.9"/><circle cx="553.7" cy="274.2" r="7.9"/><circle cx="855.1" cy="313.4" r="7.9"/><circle cx="224.4" cy="488.6" r="7.9"/><circle cx="769.2" cy="257.7" r="7.9"/><circle cx="699.7" cy="320.1" r="7.9"/><circle cx="409.8" cy="373.8" r="7.9"/><circle cx="696.2" cy="256.8" r="7.9"/><circle cx="470.8" cy="276.9" r="7.9"/><circle cx="407.3" cy="378.9" r="7.9"/><circle cx="791.1" cy="253.6" r="7.9"/><circle cx="536.1" cy="274.0" r="7.9"/><circle cx="634.5" cy="265.9" r="7.9"/><circle cx="160.8" cy="452.5" r="7.9"/><circle cx="535.3" cy="334.7" r="7.9"/><circle cx="364.4" cy="401.7" r="7.9"/><circle cx="1092.0" cy="629.0" r="7.9"/><circle cx="809.0" cy="318.3" r="7.9"/><circle cx="499.9" cy="272.0" r="7.9"/><circle cx="682.4" cy="317.9" r="7.9"/><circle cx="756.3" cy="319.9" r="7.9"/><circle cx="328.9" cy="323.4" r="7.9"/><circle cx="252.2" cy="411.4" r="7.9"/><circle cx="250.2" cy="522.6" r="7.9"/><circle cx="645.4" cy="258.2" r="7.9"/><circle cx="680.7" cy="258.7" r="7.9"/><circle cx="767.0" cy="258.9" r="7.9"/><circle cx="494.6" cy="343.1" r="7.9"/><circle cx="1057.3" cy="508.3" r="7.9"/><circle cx="345.6" cy="320.5" r="7.9"/><circle cx="829.4" cy="230.6" r="7.9"/><circle cx="568.0" cy="272.2" r="7.9"/><circle cx="726.4" cy="261.5" r="7.9"/><circle cx="498.6" cy="273.2" r="7.9"/><circle cx="246.0" cy="514.4" r="7.9"/><circle cx="480.6" cy="349.3" r="7.9"/><circle cx="500.2" cy="275.7" r="7.9"/><circle cx="350.2" cy="313.6" r="7.9"/><circle cx="243.1" cy="462.4" r="7.9"/><circle cx="665.7" cy="319.4" r="7.9"/><circle cx="315.6" cy="436.1" r="7.9"/><circle cx="710.4" cy="253.4" r="7.9"/><circle cx="959.7" cy="281.4" r="7.9"/><circle cx="665.3" cy="319.3" r="7.9"/><circle cx="355.7" cy="407.9" r="7.9"/><circle cx="183.3" cy="496.0" r="7.9"/><circle cx="478.9" cy="343.5" r="7.9"/><circle cx="302.9" cy="439.5" r="7.9"/><circle cx="559.0" cy="328.1" r="7.9"/><circle cx="404.3" cy="296.6" r="7.9"/><circle cx="638.1" cy="319.0" r="7.9"/><circle cx="881.5" cy="296.1" r="7.9"/><circle cx="708.2" cy="320.9" r="7.9"/><circle cx="891.6" cy="266.3" r="7.9"/><circle cx="716.5" cy="259.2" r="7.9"/><circle cx="436.8" cy="360.7" r="7.9"/><circle cx="924.9" cy="305.8" r="7.9"/><circle cx="164.2" cy="469.7" r="7.9"/><circle cx="817.7" cy="256.9" r="7.9"/><circle cx="715.8" cy="260.4" r="7.9"/><circle cx="664.6" cy="316.1" r="7.9"/><circle cx="597.6" cy="268.8" r="7.9"/><circle cx="546.3" cy="327.3" r="7.9"/><circle cx="754.2" cy="258.8" r="7.9"/><circle cx="842.1" cy="257.4" r="7.9"/><circle cx="583.9" cy="255.1" r="7.9"/><circle cx="613.2" cy="321.2" r="7.9"/><circle cx="212.5" cy="418.4" r="7.9"/><circle cx="466.4" cy="350.5" r="7.9"/><circle cx="475.6" cy="348.0" r="7.9"/><circle cx="420.3" cy="371.1" r="7.9"/><circle cx="717.0" cy="317.8" r="7.9"/><circle cx="509.9" cy="271.0" r="7.9"/><circle cx="492.4" cy="344.1" r="7.9"/><circle cx="922.1" cy="308.1" r="7.9"/><circle cx="304.2" cy="335.6" r="7.9"/><circle cx="599.6" cy="261.1" r="7.9"/><circle cx="490.6" cy="276.3" r="7.9"/><circle cx="698.9" cy="317.2" r="7.9"/><circle cx="619.0" cy="266.6" r="7.9"/><circle cx="464.3" cy="276.4" r="7.9"/><circle cx="275.1" cy="379.4" r="7.9"/><circle cx="611.4" cy="319.3" r="7.9"/><circle cx="616.4" cy="264.3" r="7.9"/><circle cx="910.6" cy="275.7" r="7.9"/><circle cx="585.9" cy="325.3" r="7.9"/><circle cx="427.7" cy="290.4" r="7.9"/><circle cx="840.0" cy="255.9" r="7.9"/><circle cx="335.4" cy="321.8" r="7.9"/><circle cx="305.8" cy="440.3" r="7.9"/><circle cx="702.7" cy="319.9" r="7.9"/><circle cx="864.3" cy="255.3" r="7.9"/><circle cx="157.1" cy="436.2" r="7.9"/><circle cx="653.8" cy="263.7" r="7.9"/><circle cx="726.4" cy="259.1" r="7.9"/><circle cx="772.5" cy="315.5" r="7.9"/><circle cx="211.7" cy="416.3" r="7.9"/><circle cx="900.4" cy="247.5" r="7.9"/><circle cx="852.7" cy="257.7" r="7.9"/><circle cx="266.8" cy="467.8" r="7.9"/><circle cx="772.7" cy="319.1" r="7.9"/><circle cx="627.6" cy="320.5" r="7.9"/><circle cx="1091.7" cy="628.7" r="7.9"/><circle cx="561.2" cy="240.5" r="7.9"/><circle cx="329.8" cy="423.4" r="7.9"/><circle cx="610.5" cy="319.3" r="7.9"/><circle cx="670.2" cy="259.9" r="7.9"/><circle cx="926.8" cy="295.7" r="7.9"/><circle cx="656.5" cy="319.6" r="7.9"/><circle cx="603.8" cy="260.9" r="7.9"/><circle cx="226.3" cy="525.8" r="7.9"/><circle cx="998.0" cy="230.0" r="7.9"/><circle cx="447.1" cy="284.6" r="7.9"/><circle cx="495.5" cy="274.2" r="7.9"/><circle cx="779.9" cy="313.5" r="7.9"/><circle cx="469.7" cy="275.3" r="7.9"/><circle cx="214.1" cy="523.2" r="7.9"/><circle cx="456.9" cy="278.2" r="7.9"/><circle cx="361.0" cy="421.0" r="7.9"/><circle cx="946.4" cy="267.6" r="7.9"/><circle cx="482.4" cy="349.3" r="7.9"/><circle cx="436.8" cy="279.5" r="7.9"/><circle cx="579.7" cy="264.6" r="7.9"/><circle cx="556.5" cy="267.0" r="7.9"/><circle cx="800.2" cy="314.7" r="7.9"/><circle cx="955.4" cy="270.3" r="7.9"/><circle cx="292.5" cy="351.2" r="7.9"/><circle cx="236.3" cy="460.2" r="7.9"/><circle cx="876.0" cy="255.8" r="7.9"/><circle cx="343.5" cy="317.7" r="7.9"/><circle cx="719.0" cy="255.3" r="7.9"/><circle cx="780.8" cy="313.5" r="7.9"/><circle cx="822.8" cy="317.5" r="7.9"/><circle cx="823.8" cy="252.7" r="7.9"/><circle cx="580.4" cy="266.3" r="7.9"/><circle cx="492.5" cy="270.0" r="7.9"/><circle cx="224.8" cy="523.9" r="7.9"/><circle cx="503.1" cy="274.1" r="7.9"/><circle cx="271.4" cy="379.0" r="7.9"/><circle cx="728.6" cy="256.9" r="7.9"/><circle cx="314.6" cy="430.2" r="7.9"/><circle cx="793.7" cy="320.1" r="7.9"/><circle cx="928.0" cy="250.5" r="7.9"/><circle cx="693.9" cy="258.4" r="7.9"/><circle cx="289.4" cy="449.0" r="7.9"/><circle cx="590.8" cy="325.2" r="7.9"/><circle cx="910.4" cy="305.4" r="7.9"/><circle cx="780.0" cy="233.7" r="7.9"/><circle cx="652.3" cy="261.7" r="7.9"/><circle cx="621.8" cy="323.7" r="7.9"/><circle cx="718.8" cy="316.6" r="7.9"/><circle cx="486.9" cy="273.1" r="7.9"/><circle cx="244.5" cy="372.9" r="7.9"/><circle cx="235.2" cy="521.8" r="7.9"/><circle cx="670.5" cy="242.3" r="7.9"/><circle cx="911.5" cy="300.3" r="7.9"/><circle cx="536.9" cy="274.1" r="7.9"/><circle cx="800.3" cy="252.0" r="7.9"/><circle cx="1023.0" cy="352.0" r="7.9"/><circle cx="492.1" cy="340.7" r="7.9"/><circle cx="393.6" cy="392.2" r="7.9"/><circle cx="694.1" cy="318.1" r="7.9"/><circle cx="473.9" cy="273.4" r="7.9"/><circle cx="667.7" cy="249.3" r="7.9"/><circle cx="775.8" cy="315.7" r="7.9"/><circle cx="223.5" cy="411.0" r="7.9"/><circle cx="623.6" cy="267.7" r="7.9"/><circle cx="470.4" cy="356.8" r="7.9"/><circle cx="404.5" cy="296.8" r="7.9"/><circle cx="420.8" cy="510.0" r="7.9"/><circle cx="391.3" cy="389.1" r="7.9"/><circle cx="557.5" cy="260.6" r="7.9"/><circle cx="673.7" cy="258.1" r="7.9"/><circle cx="623.3" cy="320.5" r="7.9"/><circle cx="828.6" cy="312.8" r="7.9"/><circle cx="276.1" cy="357.9" r="7.9"/><circle cx="228.5" cy="521.6" r="7.9"/><circle cx="1086.0" cy="655.0" r="7.9"/><circle cx="560.1" cy="325.0" r="7.9"/><circle cx="370.8" cy="397.9" r="7.9"/><circle cx="645.1" cy="264.1" r="7.9"/><circle cx="251.7" cy="412.6" r="7.9"/><circle cx="686.8" cy="262.7" r="7.9"/><circle cx="976.0" cy="423.0" r="7.9"/><circle cx="1067.3" cy="660.7" r="7.9"/><circle cx="506.1" cy="273.1" r="7.9"/><circle cx="961.1" cy="308.0" r="7.9"/><circle cx="273.5" cy="358.5" r="7.9"/><circle cx="965.7" cy="307.8" r="7.9"/><circle cx="774.2" cy="257.4" r="7.9"/><circle cx="1065.8" cy="419.2" r="7.9"/><circle cx="435.0" cy="495.0" r="7.9"/><circle cx="555.1" cy="272.2" r="7.9"/><circle cx="222.4" cy="407.5" r="7.9"/><circle cx="533.4" cy="274.7" r="7.9"/><circle cx="992.8" cy="293.1" r="7.9"/><circle cx="171.8" cy="453.0" r="7.9"/><circle cx="433.3" cy="284.6" r="7.9"/><circle cx="917.7" cy="256.2" r="7.9"/><circle cx="272.8" cy="359.3" r="7.9"/><circle cx="836.4" cy="259.2" r="7.9"/><circle cx="411.2" cy="293.9" r="7.9"/><circle cx="546.2" cy="271.4" r="7.9"/><circle cx="286.3" cy="339.2" r="7.9"/><circle cx="289.9" cy="338.9" r="7.9"/><circle cx="352.9" cy="409.9" r="7.9"/><circle cx="466.7" cy="279.3" r="7.9"/><circle cx="832.0" cy="316.5" r="7.9"/><circle cx="285.3" cy="363.0" r="7.9"/><circle cx="1040.0" cy="541.7" r="7.9"/><circle cx="463.4" cy="278.0" r="7.9"/><circle cx="860.6" cy="259.8" r="7.9"/><circle cx="302.0" cy="334.2" r="7.9"/><circle cx="496.5" cy="274.4" r="7.9"/><circle cx="600.4" cy="266.3" r="7.9"/><circle cx="756.3" cy="314.9" r="7.9"/><circle cx="286.2" cy="451.2" r="7.9"/><circle cx="418.2" cy="288.9" r="7.9"/><circle cx="737.2" cy="257.9" r="7.9"/><circle cx="552.3" cy="331.0" r="7.9"/><circle cx="895.3" cy="312.6" r="7.9"/><circle cx="660.5" cy="260.0" r="7.9"/><circle cx="417.5" cy="370.4" r="7.9"/><circle cx="589.3" cy="327.8" r="7.9"/><circle cx="706.2" cy="316.4" r="7.9"/><circle cx="271.7" cy="490.0" r="7.9"/><circle cx="847.1" cy="259.4" r="7.9"/><circle cx="456.7" cy="351.8" r="7.9"/><circle cx="485.7" cy="347.8" r="7.9"/><circle cx="719.8" cy="242.8" r="7.9"/><circle cx="693.8" cy="262.9" r="7.9"/><circle cx="343.0" cy="319.2" r="7.9"/><circle cx="569.0" cy="270.8" r="7.9"/><circle cx="165.6" cy="462.5" r="7.9"/><circle cx="212.9" cy="427.4" r="7.9"/><circle cx="407.2" cy="297.0" r="7.9"/><circle cx="392.5" cy="258.3" r="7.9"/><circle cx="913.0" cy="311.7" r="7.9"/><circle cx="245.6" cy="522.8" r="7.9"/><circle cx="543.9" cy="272.6" r="7.9"/><circle cx="622.1" cy="260.3" r="7.9"/><circle cx="521.5" cy="272.5" r="7.9"/><circle cx="1041.7" cy="503.3" r="7.9"/><circle cx="468.3" cy="276.6" r="7.9"/><circle cx="441.2" cy="367.0" r="7.9"/><circle cx="732.7" cy="253.8" r="7.9"/><circle cx="579.2" cy="262.6" r="7.9"/><circle cx="352.0" cy="314.0" r="7.9"/><circle cx="527.7" cy="271.8" r="7.9"/><circle cx="210.5" cy="523.3" r="7.9"/><circle cx="528.4" cy="269.4" r="7.9"/><circle cx="249.3" cy="403.7" r="7.9"/><circle cx="1052.3" cy="561.7" r="7.9"/><circle cx="213.3" cy="486.0" r="7.9"/><circle cx="670.2" cy="322.6" r="7.9"/><circle cx="204.3" cy="388.7" r="7.9"/><circle cx="271.1" cy="363.1" r="7.9"/><circle cx="611.0" cy="266.9" r="7.9"/><circle cx="872.2" cy="255.4" r="7.9"/><circle cx="927.5" cy="293.9" r="7.9"/><circle cx="750.9" cy="314.6" r="7.9"/><circle cx="924.4" cy="291.9" r="7.9"/><circle cx="717.9" cy="325.1" r="7.9"/><circle cx="988.4" cy="270.0" r="7.9"/><circle cx="708.1" cy="255.1" r="7.9"/><circle cx="732.7" cy="322.0" r="7.9"/><circle cx="236.9" cy="417.7" r="7.9"/><circle cx="676.3" cy="259.4" r="7.9"/><circle cx="866.2" cy="257.2" r="7.9"/><circle cx="510.1" cy="272.2" r="7.9"/><circle cx="556.8" cy="330.5" r="7.9"/><circle cx="914.2" cy="299.9" r="7.9"/><circle cx="472.9" cy="345.4" r="7.9"/><circle cx="556.6" cy="271.3" r="7.9"/><circle cx="221.1" cy="440.7" r="7.9"/><circle cx="259.7" cy="387.5" r="7.9"/><circle cx="657.5" cy="262.2" r="7.9"/><circle cx="891.4" cy="276.6" r="7.9"/><circle cx="562.1" cy="325.7" r="7.9"/><circle cx="182.3" cy="500.4" r="7.9"/><circle cx="734.7" cy="315.5" r="7.9"/><circle cx="202.1" cy="514.9" r="7.9"/><circle cx="794.2" cy="312.7" r="7.9"/><circle cx="434.6" cy="284.5" r="7.9"/><circle cx="790.4" cy="315.5" r="7.9"/><circle cx="367.6" cy="307.7" r="7.9"/><circle cx="866.8" cy="248.9" r="7.9"/><circle cx="280.0" cy="362.9" r="7.9"/><circle cx="296.2" cy="332.2" r="7.9"/><circle cx="322.6" cy="427.4" r="7.9"/><circle cx="264.9" cy="391.3" r="7.9"/><circle cx="891.8" cy="278.2" r="7.9"/><circle cx="190.2" cy="503.3" r="7.9"/><circle cx="650.9" cy="257.6" r="7.9"/><circle cx="963.0" cy="255.0" r="7.9"/><circle cx="480.1" cy="347.0" r="7.9"/><circle cx="649.4" cy="256.4" r="7.9"/><circle cx="1071.7" cy="642.7" r="7.9"/><circle cx="637.2" cy="321.1" r="7.9"/><circle cx="388.8" cy="398.8" r="7.9"/><circle cx="733.7" cy="262.3" r="7.9"/><circle cx="741.1" cy="255.7" r="7.9"/><circle cx="915.0" cy="265.5" r="7.9"/><circle cx="514.7" cy="340.5" r="7.9"/><circle cx="870.7" cy="245.9" r="7.9"/><circle cx="752.5" cy="317.2" r="7.9"/><circle cx="450.1" cy="278.8" r="7.9"/><circle cx="290.1" cy="347.0" r="7.9"/><circle cx="950.9" cy="307.3" r="7.9"/><circle cx="203.0" cy="516.1" r="7.9"/><circle cx="458.4" cy="353.3" r="7.9"/><circle cx="388.8" cy="411.0" r="7.9"/><circle cx="927.6" cy="300.6" r="7.9"/><circle cx="799.3" cy="247.5" r="7.9"/><circle cx="671.1" cy="265.2" r="7.9"/><circle cx="714.5" cy="318.2" r="7.9"/><circle cx="692.2" cy="255.1" r="7.9"/><circle cx="291.8" cy="331.5" r="7.9"/><circle cx="412.8" cy="293.1" r="7.9"/><circle cx="247.7" cy="384.6" r="7.9"/><circle cx="498.5" cy="342.6" r="7.9"/><circle cx="551.7" cy="264.0" r="7.9"/><circle cx="707.0" cy="316.6" r="7.9"/><circle cx="689.3" cy="317.6" r="7.9"/><circle cx="633.6" cy="254.6" r="7.9"/><circle cx="223.4" cy="525.0" r="7.9"/><circle cx="566.2" cy="327.8" r="7.9"/><circle cx="723.8" cy="316.9" r="7.9"/><circle cx="800.0" cy="238.5" r="7.9"/><circle cx="663.0" cy="323.8" r="7.9"/><circle cx="840.3" cy="232.8" r="7.9"/><circle cx="1011.0" cy="363.0" r="7.9"/><circle cx="701.4" cy="243.2" r="7.9"/><circle cx="647.4" cy="266.3" r="7.9"/><circle cx="808.9" cy="315.1" r="7.9"/><circle cx="587.4" cy="321.3" r="7.9"/><circle cx="247.3" cy="510.4" r="7.9"/><circle cx="552.8" cy="335.7" r="7.9"/><circle cx="276.7" cy="358.9" r="7.9"/><circle cx="444.0" cy="284.2" r="7.9"/><circle cx="605.2" cy="257.8" r="7.9"/><circle cx="781.8" cy="314.2" r="7.9"/><circle cx="411.5" cy="287.7" r="7.9"/><circle cx="572.7" cy="271.2" r="7.9"/><circle cx="360.0" cy="310.1" r="7.9"/><circle cx="826.5" cy="260.9" r="7.9"/><circle cx="289.0" cy="341.9" r="7.9"/><circle cx="176.9" cy="487.4" r="7.9"/><circle cx="571.7" cy="324.8" r="7.9"/><circle cx="821.5" cy="311.8" r="7.9"/><circle cx="293.0" cy="351.4" r="7.9"/><circle cx="241.3" cy="463.9" r="7.9"/><circle cx="856.6" cy="316.3" r="7.9"/><circle cx="271.2" cy="356.1" r="7.9"/><circle cx="758.0" cy="251.8" r="7.9"/><circle cx="269.1" cy="359.8" r="7.9"/><circle cx="694.9" cy="261.1" r="7.9"/><circle cx="831.7" cy="312.4" r="7.9"/><circle cx="170.5" cy="454.9" r="7.9"/><circle cx="890.6" cy="325.1" r="7.9"/><circle cx="217.1" cy="404.4" r="7.9"/><circle cx="932.8" cy="270.7" r="7.9"/><circle cx="716.7" cy="255.1" r="7.9"/><circle cx="160.2" cy="450.1" r="7.9"/><circle cx="703.8" cy="250.2" r="7.9"/><circle cx="538.6" cy="331.9" r="7.9"/><circle cx="378.5" cy="300.6" r="7.9"/><circle cx="621.3" cy="266.0" r="7.9"/><circle cx="524.0" cy="269.6" r="7.9"/><circle cx="654.2" cy="263.3" r="7.9"/><circle cx="822.3" cy="253.6" r="7.9"/><circle cx="695.0" cy="315.6" r="7.9"/><circle cx="771.1" cy="313.1" r="7.9"/><circle cx="903.7" cy="317.7" r="7.9"/><circle cx="481.0" cy="349.7" r="7.9"/><circle cx="163.5" cy="448.8" r="7.9"/><circle cx="840.3" cy="259.2" r="7.9"/><circle cx="248.2" cy="465.3" r="7.9"/><circle cx="248.3" cy="520.5" r="7.9"/><circle cx="765.7" cy="321.0" r="7.9"/><circle cx="271.6" cy="365.5" r="7.9"/><circle cx="472.6" cy="351.7" r="7.9"/><circle cx="464.9" cy="279.7" r="7.9"/><circle cx="270.0" cy="363.2" r="7.9"/><circle cx="428.0" cy="367.9" r="7.9"/><circle cx="507.0" cy="261.7" r="7.9"/><circle cx="832.4" cy="316.4" r="7.9"/><circle cx="524.0" cy="251.5" r="7.9"/><circle cx="850.4" cy="254.8" r="7.9"/><circle cx="246.8" cy="511.9" r="7.9"/><circle cx="511.4" cy="271.8" r="7.9"/><circle cx="492.9" cy="342.3" r="7.9"/><circle cx="847.8" cy="316.7" r="7.9"/><circle cx="590.3" cy="270.4" r="7.9"/><circle cx="682.5" cy="262.3" r="7.9"/><circle cx="925.8" cy="294.8" r="7.9"/><circle cx="200.3" cy="485.2" r="7.9"/><circle cx="467.8" cy="351.9" r="7.9"/><circle cx="821.4" cy="312.6" r="7.9"/><circle cx="757.2" cy="232.4" r="7.9"/><circle cx="503.0" cy="340.7" r="7.9"/><circle cx="774.4" cy="251.4" r="7.9"/><circle cx="205.0" cy="437.5" r="7.9"/><circle cx="441.6" cy="359.6" r="7.9"/><circle cx="236.2" cy="496.0" r="7.9"/><circle cx="550.1" cy="268.6" r="7.9"/><circle cx="787.8" cy="314.5" r="7.9"/><circle cx="528.9" cy="259.9" r="7.9"/><circle cx="206.1" cy="408.1" r="7.9"/><circle cx="803.7" cy="260.9" r="7.9"/><circle cx="1107.7" cy="630.0" r="7.9"/><circle cx="699.5" cy="259.3" r="7.9"/><circle cx="884.0" cy="307.4" r="7.9"/><circle cx="840.4" cy="252.0" r="7.9"/><circle cx="334.1" cy="428.0" r="7.9"/><circle cx="695.8" cy="316.0" r="7.9"/><circle cx="532.3" cy="260.3" r="7.9"/><circle cx="745.1" cy="315.7" r="7.9"/><circle cx="192.0" cy="506.4" r="7.9"/><circle cx="287.5" cy="506.7" r="7.9"/><circle cx="505.5" cy="272.0" r="7.9"/><circle cx="692.7" cy="264.5" r="7.9"/><circle cx="705.1" cy="320.4" r="7.9"/><circle cx="712.5" cy="248.7" r="7.9"/><circle cx="381.7" cy="299.3" r="7.9"/><circle cx="667.4" cy="255.1" r="7.9"/><circle cx="713.7" cy="252.0" r="7.9"/><circle cx="669.1" cy="260.3" r="7.9"/><circle cx="907.0" cy="276.2" r="7.9"/><circle cx="898.8" cy="304.9" r="7.9"/><circle cx="460.6" cy="354.2" r="7.9"/><circle cx="645.4" cy="324.8" r="7.9"/><circle cx="545.5" cy="271.5" r="7.9"/><circle cx="917.5" cy="284.8" r="7.9"/><circle cx="1035.0" cy="624.0" r="7.9"/><circle cx="965.0" cy="285.9" r="7.9"/><circle cx="605.5" cy="267.7" r="7.9"/><circle cx="712.1" cy="317.7" r="7.9"/><circle cx="219.2" cy="407.0" r="7.9"/><circle cx="679.6" cy="321.0" r="7.9"/><circle cx="350.8" cy="414.3" r="7.9"/><circle cx="589.6" cy="265.7" r="7.9"/><circle cx="637.1" cy="250.5" r="7.9"/><circle cx="555.8" cy="327.1" r="7.9"/><circle cx="176.1" cy="485.4" r="7.9"/><circle cx="796.0" cy="313.6" r="7.9"/><circle cx="661.1" cy="317.1" r="7.9"/><circle cx="931.8" cy="270.2" r="7.9"/><circle cx="514.5" cy="336.7" r="7.9"/><circle cx="162.9" cy="458.0" r="7.9"/><circle cx="555.8" cy="329.5" r="7.9"/><circle cx="384.6" cy="387.7" r="7.9"/><circle cx="743.8" cy="243.8" r="7.9"/><circle cx="290.1" cy="331.9" r="7.9"/><circle cx="426.4" cy="364.2" r="7.9"/><circle cx="333.8" cy="424.1" r="7.9"/><circle cx="786.4" cy="259.2" r="7.9"/><circle cx="590.9" cy="268.5" r="7.9"/><circle cx="499.6" cy="272.5" r="7.9"/><circle cx="249.2" cy="414.3" r="7.9"/><circle cx="905.5" cy="300.7" r="7.9"/><circle cx="540.3" cy="246.5" r="7.9"/><circle cx="1033.0" cy="362.0" r="7.9"/><circle cx="947.7" cy="294.9" r="7.9"/><circle cx="906.7" cy="309.9" r="7.9"/><circle cx="595.9" cy="331.8" r="7.9"/><circle cx="443.9" cy="286.4" r="7.9"/><circle cx="748.8" cy="256.0" r="7.9"/><circle cx="908.5" cy="316.8" r="7.9"/><circle cx="819.5" cy="257.3" r="7.9"/><circle cx="420.5" cy="379.0" r="7.9"/><circle cx="566.1" cy="273.1" r="7.9"/><circle cx="1026.0" cy="463.0" r="7.9"/><circle cx="351.2" cy="415.1" r="7.9"/><circle cx="782.1" cy="258.3" r="7.9"/><circle cx="695.2" cy="241.2" r="7.9"/><circle cx="566.9" cy="263.1" r="7.9"/><circle cx="220.1" cy="409.6" r="7.9"/><circle cx="371.7" cy="395.8" r="7.9"/><circle cx="515.5" cy="338.3" r="7.9"/><circle cx="495.8" cy="274.0" r="7.9"/><circle cx="947.0" cy="286.4" r="7.9"/><circle cx="866.5" cy="245.8" r="7.9"/><circle cx="632.1" cy="260.2" r="7.9"/><circle cx="863.5" cy="254.4" r="7.9"/><circle cx="456.3" cy="275.3" r="7.9"/><circle cx="703.2" cy="256.4" r="7.9"/><circle cx="654.7" cy="319.3" r="7.9"/><circle cx="551.1" cy="326.9" r="7.9"/><circle cx="745.7" cy="317.4" r="7.9"/><circle cx="635.5" cy="266.6" r="7.9"/><circle cx="623.3" cy="254.1" r="7.9"/><circle cx="638.1" cy="265.7" r="7.9"/><circle cx="1058.8" cy="343.8" r="7.9"/><circle cx="926.6" cy="268.6" r="7.9"/><circle cx="281.5" cy="363.0" r="7.9"/><circle cx="594.0" cy="322.1" r="7.9"/><circle cx="243.6" cy="371.9" r="7.9"/><circle cx="1023.3" cy="639.3" r="7.9"/><circle cx="178.0" cy="462.7" r="7.9"/><circle cx="520.2" cy="334.2" r="7.9"/><circle cx="647.6" cy="319.8" r="7.9"/><circle cx="231.4" cy="492.7" r="7.9"/><circle cx="850.8" cy="256.3" r="7.9"/><circle cx="210.7" cy="397.1" r="7.9"/><circle cx="557.4" cy="327.5" r="7.9"/><circle cx="456.3" cy="355.8" r="7.9"/><circle cx="678.2" cy="318.6" r="7.9"/><circle cx="294.1" cy="353.3" r="7.9"/><circle cx="374.4" cy="397.7" r="7.9"/><circle cx="782.4" cy="255.0" r="7.9"/><circle cx="291.9" cy="356.5" r="7.9"/><circle cx="615.0" cy="267.4" r="7.9"/><circle cx="205.6" cy="406.8" r="7.9"/><circle cx="1043.8" cy="322.5" r="7.9"/><circle cx="247.6" cy="520.6" r="7.9"/><circle cx="573.6" cy="269.8" r="7.9"/><circle cx="550.6" cy="269.1" r="7.9"/><circle cx="659.0" cy="321.9" r="7.9"/><circle cx="527.6" cy="332.7" r="7.9"/><circle cx="273.5" cy="363.5" r="7.9"/><circle cx="458.3" cy="281.9" r="7.9"/><circle cx="564.9" cy="256.4" r="7.9"/><circle cx="470.4" cy="274.2" r="7.9"/><circle cx="1003.0" cy="461.0" r="7.9"/><circle cx="738.4" cy="262.6" r="7.9"/><circle cx="632.3" cy="323.8" r="7.9"/><circle cx="619.0" cy="256.1" r="7.9"/><circle cx="309.5" cy="439.1" r="7.9"/><circle cx="446.9" cy="284.8" r="7.9"/><circle cx="429.1" cy="289.6" r="7.9"/><circle cx="1034.0" cy="430.0" r="7.9"/><circle cx="270.7" cy="361.2" r="7.9"/>
</g>
<path d="M98.9 241.4H1328.7" stroke="#FF0000" stroke-width="2.85" stroke-dasharray="2.8436 8.5307" fill="none"/>
<path d="M98.9 301H1328.7M98.9 312.9H1328.7" stroke="#00008B" stroke-width="2.85" stroke-dasharray="11.374 11.374" fill="none"/>
<g fill="#E41A1C" fill-opacity=".8" stroke="#E41A1C" stroke-opacity=".85" stroke-width="1.4">
<circle cx="768.0" cy="158.2" r="8"/><circle cx="803.8" cy="156.2" r="8"/><circle cx="753.2" cy="177.0" r="8"/><circle cx="797.0" cy="174.5" r="8"/><circle cx="784.2" cy="184.2" r="8"/><circle cx="776.2" cy="189.2" r="8"/><circle cx="733.8" cy="208.0" r="8"/><circle cx="796.8" cy="207.0" r="8"/><circle cx="887.2" cy="137.5" r="8"/><circle cx="897.5" cy="144.4" r="8"/><circle cx="866.9" cy="154.4" r="8"/><circle cx="860.0" cy="158.1" r="8"/><circle cx="871.9" cy="185.6" r="8"/><circle cx="900.0" cy="178.8" r="8"/><circle cx="902.5" cy="192.5" r="8"/><circle cx="900.6" cy="197.5" r="8"/><circle cx="923.8" cy="193.1" r="8"/><circle cx="886.5" cy="208.5" r="8"/><circle cx="932.5" cy="170.6" r="8"/><circle cx="932.7" cy="170.4" r="8"/><circle cx="963.5" cy="197.8" r="8"/><circle cx="996.5" cy="167.2" r="8"/><circle cx="942.5" cy="91.2" r="8"/><circle cx="1012.5" cy="139.5" r="8"/><circle cx="1009.5" cy="201.2" r="8"/>
</g>
<g stroke="#222" stroke-width="2.85" fill="none">
<path d="M640.0 89.5L864.4 153.8"/><path d="M538.0 148.0L801.0 156.0"/><path d="M437.0 208.8L765.0 158.8"/><path d="M662.8 205.0L751.2 178.8"/><path d="M559.8 266.2L781.2 186.2"/><path d="M643.8 281.2L732.5 210.0"/><path d="M744.5 220.8L775.5 189.2"/><path d="M751.2 281.2L795.5 209.2"/><path d="M834.2 215.0L798.8 176.2"/><path d="M842.5 275.5L870.8 188.5"/><path d="M808.8 91.8L885.5 136.2"/><path d="M876.2 125.8L896.2 143.0"/><path d="M753.0 146.2L858.8 157.5"/><path d="M1060.0 89.2L943.8 90.8"/><path d="M978.0 132.0L935.0 169.0"/><path d="M1153.0 149.5L1015.5 139.5"/><path d="M1023.0 170.8L999.5 168.0"/><path d="M1135.0 231.2L935.5 171.2"/><path d="M928.8 210.0L905.0 192.5"/><path d="M1040.0 272.0L925.6 195.0"/><path d="M1119.2 291.2L965.6 199.0"/><path d="M936.7 271.5L901.2 198.1"/><path d="M947.5 333.5L886.9 210.0"/>
</g>
<g fill="#E41A1C" fill-opacity=".8" stroke="#E41A1C" stroke-opacity=".5" stroke-width=".7">
<rect x="557.2" y="69.2" width="83.0" height="40.2" rx="4.5"/>
<rect x="456.0" y="128.0" width="82.0" height="40.8" rx="4.5"/>
<rect x="347.2" y="188.2" width="89.8" height="40.5" rx="4.5"/>
<rect x="563.5" y="186.2" width="99.2" height="40.5" rx="4.5"/>
<rect x="457.2" y="247.0" width="102.5" height="40.5" rx="4.5"/>
<rect x="579.5" y="281.2" width="112.2" height="40.5" rx="4.5"/>
<rect x="715.5" y="69.2" width="93.2" height="40.2" rx="4.5"/>
<rect x="823.0" y="85.0" width="95.0" height="40.6" rx="4.5"/>
<rect x="642.5" y="126.2" width="110.5" height="40.5" rx="4.5"/>
<rect x="845.2" y="148.0" width="72.8" height="41.0" rx="4.5"/>
<rect x="694.2" y="221.0" width="87.8" height="40.5" rx="4.5"/>
<rect x="801.8" y="215.0" width="77.0" height="40.5" rx="4.5"/>
<rect x="711.2" y="281.2" width="75.8" height="40.5" rx="4.5"/>
<rect x="806.2" y="275.5" width="71.8" height="40.2" rx="4.5"/>
<rect x="937.5" y="91.2" width="102.5" height="40.8" rx="4.5"/>
<rect x="1060.0" y="69.2" width="94.8" height="40.2" rx="4.5"/>
<rect x="1023.0" y="151.2" width="110.8" height="41.2" rx="4.5"/>
<rect x="1153.0" y="129.2" width="103.0" height="40.8" rx="4.5"/>
<rect x="900.0" y="210.0" width="87.0" height="41.0" rx="4.5"/>
<rect x="1011.8" y="212.0" width="103.2" height="40.5" rx="4.5"/>
<rect x="1135.0" y="212.0" width="113.0" height="40.5" rx="4.5"/>
<rect x="898.1" y="271.2" width="78.7" height="40.8" rx="4.5"/>
<rect x="996.3" y="272.0" width="102.7" height="40.6" rx="4.5"/>
<rect x="1119.2" y="272.0" width="102.5" height="40.6" rx="4.5"/>
<rect x="897.2" y="333.8" width="102.8" height="40.4" rx="4.5"/>
</g>
<g font-size="29.1" fill="#1c0808" text-anchor="middle">
<text x="598.8" y="99.8">Ldb2</text>
<text x="497.0" y="158.8">Nrp1</text>
<text x="392.1" y="218.9">Crym</text>
<text x="613.1" y="216.9">Pcsk2</text>
<text x="508.5" y="277.6">Zfpm2</text>
<text x="635.6" y="311.9">Ncam2</text>
<text x="762.1" y="99.8">Atp5e</text>
<text x="870.5" y="115.7">Pomp</text>
<text x="697.8" y="156.9">Rpl35a</text>
<text x="881.6" y="178.9">Ntm</text>
<text x="738.1" y="251.7">Rnd2</text>
<text x="840.2" y="245.7">Slit3</text>
<text x="749.1" y="311.9">Fat3</text>
<text x="842.1" y="306.0">Ndn</text>
<text x="988.8" y="122.0">Rps12</text>
<text x="1107.4" y="99.8">Rpl26</text>
<text x="1078.4" y="182.3">Rpl13a</text>
<text x="1204.5" y="160.0">Rps26</text>
<text x="943.5" y="240.9">Cotl1</text>
<text x="1063.4" y="242.7">Rps17</text>
<text x="1191.5" y="242.7">Hmgn1</text>
<text x="937.5" y="302.0">Rpl5</text>
<text x="1047.7" y="302.7">Rps28</text>
<text x="1170.5" y="302.7">Rps25</text>
<text x="948.6" y="364.4">Kcnq3</text>
</g>
<rect x="98.9" y="59.9" width="1229.8" height="707.7" fill="none" stroke="#3a3a3a" stroke-width="1.75"/>
<g stroke="#333" stroke-width="2.7">
<path d="M121.4 768.5v7.2"/>
<path d="M446.1 768.5v7.2"/>
<path d="M770.8 768.5v7.2"/>
<path d="M1095.5 768.5v7.2"/>
<path d="M98.0 212.3h-7.1"/>
<path d="M98.0 420.4h-7.1"/>
<path d="M98.0 628.5h-7.1"/>
</g>
<g font-size="26.4" fill="#3C5488">
<text x="120.5" y="804.7" text-anchor="middle">0</text>
<text x="445.2" y="804.7" text-anchor="middle">3</text>
<text x="769.9" y="804.7" text-anchor="middle">6</text>
<text x="1094.6" y="804.7" text-anchor="middle">9</text>
<text x="84.6" y="222.0" text-anchor="end">1.5</text>
<text x="84.6" y="430.1" text-anchor="end">1.0</text>
<text x="84.6" y="638.2" text-anchor="end">0.5</text>
</g>
<text x="713.9" y="841" font-size="26.7" fill="#3C5488" text-anchor="middle">log normalized counts</text>
<text transform="translate(37.5,413.8) rotate(-90)" font-size="26.7" fill="#3C5488" text-anchor="middle">GDI</text>
<text x="99.5" y="38.1" font-size="32.25" font-weight="bold" font-style="italic" fill="#3C5488">GDI plot - cl510e15.0</text>
<rect x="652.8" y="884.8" width="33.2" height="39.8" rx="4.3" fill="#E41A1C" fill-opacity=".8"/>
<circle cx="669.5" cy="907.6" r="7.6" fill="#E41A1C" fill-opacity=".8" stroke="#E41A1C" stroke-opacity=".8" stroke-width="1.4"/>
<text x="669" y="916.2" font-size="29.4" fill="#000" text-anchor="middle">a</text>
<text x="708.7" y="916.1" font-size="23.1" font-style="italic" fill="#3C5488">topGDI</text>
</svg></body></html>
